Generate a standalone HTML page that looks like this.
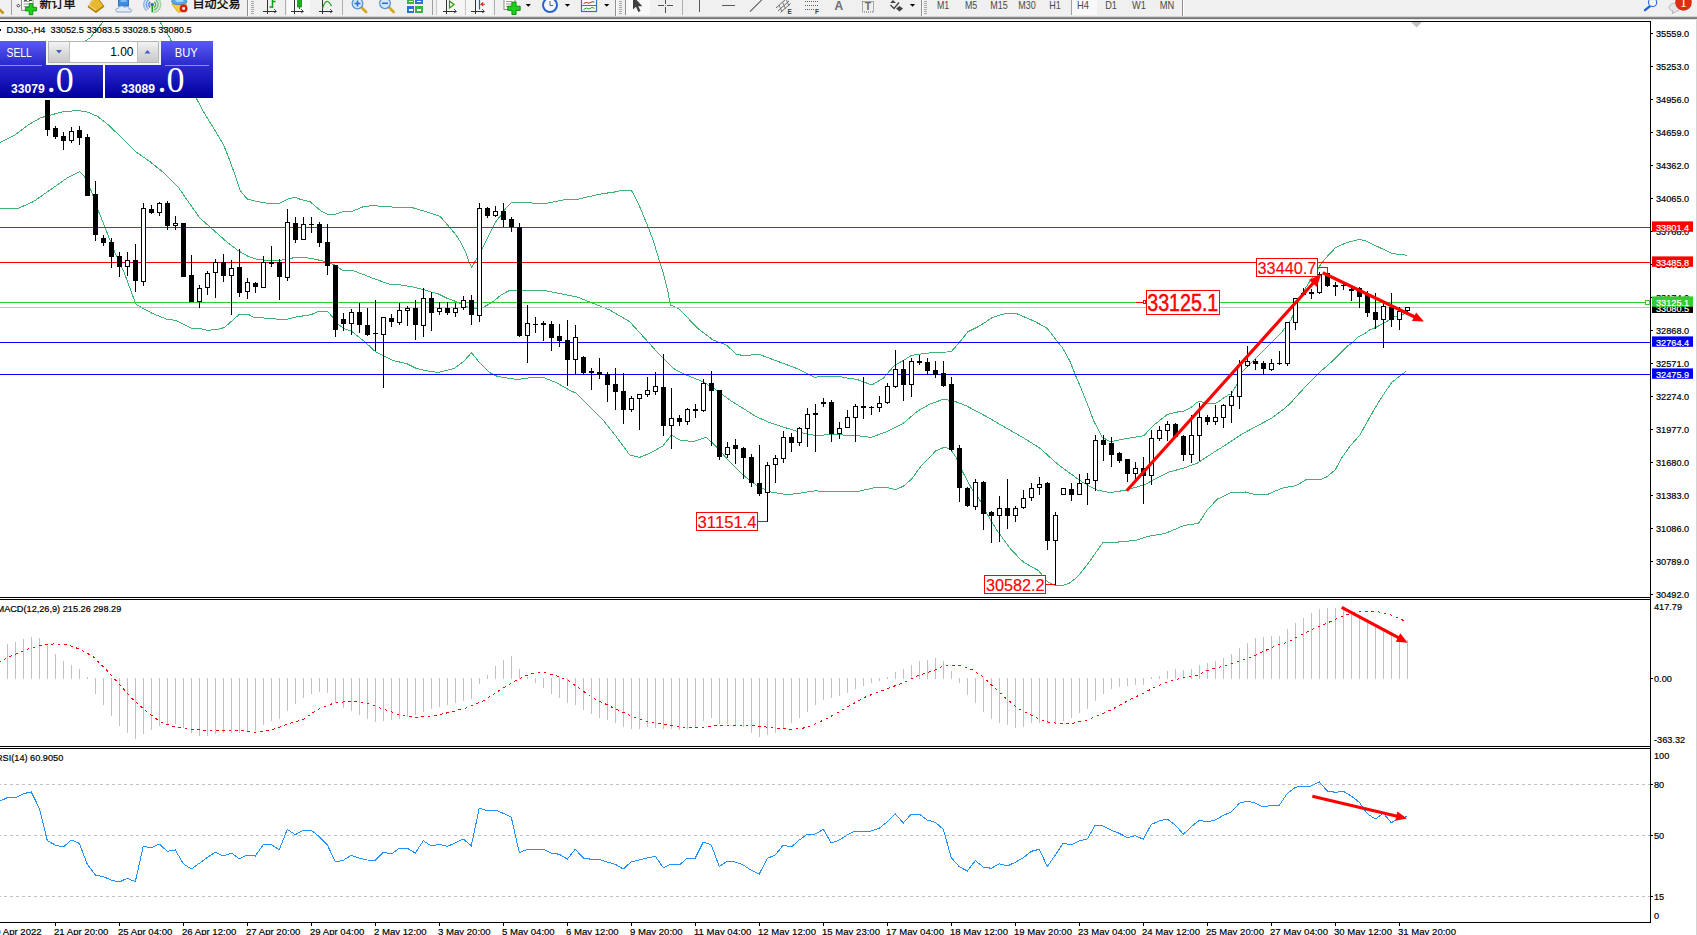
<!DOCTYPE html>
<html lang="zh"><head><meta charset="utf-8"><title>DJ30-,H4</title>
<style>html,body{margin:0;padding:0;background:#fff;overflow:hidden}body{width:1697px;height:935px;position:relative;font-family:"Liberation Sans","Noto Sans CJK SC",sans-serif}</style>
</head><body>
<svg width="1697" height="935" viewBox="0 0 1697 935" style="position:absolute;left:0;top:0">
<defs>
<linearGradient id="gbt" x1="0" y1="0" x2="0" y2="1"><stop offset="0" stop-color="#5a5af4"/><stop offset="1" stop-color="#2828cc"/></linearGradient>
<linearGradient id="gbb" x1="0" y1="0" x2="0" y2="1"><stop offset="0" stop-color="#2a2ad0"/><stop offset="1" stop-color="#0000a0"/></linearGradient>
<linearGradient id="gsp" x1="0" y1="0" x2="0" y2="1"><stop offset="0" stop-color="#f4f4f4"/><stop offset="0.5" stop-color="#dcdcdc"/><stop offset="1" stop-color="#c8c8c8"/></linearGradient>
</defs>
<rect x="0" y="0" width="1697" height="935" fill="#fff"/>
<g shape-rendering="crispEdges">
<rect x="0" y="21" width="1651" height="1" fill="#000"/>
<rect x="1650" y="21" width="1" height="902" fill="#000"/>
<rect x="0" y="597" width="1651" height="1" fill="#000"/>
<rect x="0" y="599" width="1651" height="1" fill="#000"/>
<rect x="0" y="746" width="1651" height="1" fill="#000"/>
<rect x="0" y="748" width="1651" height="1" fill="#000"/>
<rect x="0" y="922" width="1651" height="1" fill="#000"/>
<rect x="1696" y="19" width="1" height="916" fill="#d4d4d4"/>
</g>
<clipPath id="cm"><rect x="0" y="22" width="1650" height="575"/></clipPath>
<g clip-path="url(#cm)">
<polyline points="-2.0,75.0 40.0,62.0 70.0,50.0 90.0,38.0 103.0,22.0 110.0,10.0" fill="none" stroke="#3cb371" stroke-width="1" shape-rendering="crispEdges" />
<polyline points="152.0,10.0 160.0,22.0 170.0,38.0 185.0,75.0 197.3,100.1 203.7,112.1 215.0,130.5 223.5,144.7 229.1,158.8 234.8,174.4 240.0,189.9 242.4,193.4 247.4,199.1 256.6,201.5 267.9,203.3 279.2,203.3 287.7,199.1 294.8,197.3 301.8,199.8 310.3,201.9 320.2,210.4 327.3,214.2 335.8,214.2 342.9,211.8 352.8,211.1 362.7,206.9 372.6,205.5 386.7,206.9 400.8,207.2 412.2,207.6 426.3,211.8 440.0,216.2 456.0,234.9 461.4,243.5 465.7,252.0 468.9,261.7 471.6,267.5 476.9,258.4 482.2,248.8 488.1,237.1 495.6,222.1 501.0,215.1 504.2,210.3 511.1,202.6 530.9,202.6 533.0,203.7 545.9,203.4 565.1,199.6 576.9,199.4 600.0,194.1 616.6,191.7 622.2,190.2 631.4,190.2 639.2,205.5 647.7,226.0 653.4,240.8 659.7,262.0 663.3,273.3 667.5,289.6 670.3,305.0 678.0,308.3 689.7,320.0 699.7,330.0 713.0,340.0 726.3,345.0 736.3,354.0 744.7,356.0 758.0,354.0 769.7,358.3 783.0,363.3 796.3,368.3 806.3,373.3 814.7,377.3 823.0,376.0 836.3,376.0 848.3,378.3 856.7,379.3 871.7,385.0 883.3,378.3 893.3,366.7 900.0,362.2 904.2,360.1 911.3,355.4 919.8,354.2 932.5,352.6 946.7,352.0 951.6,351.2 959.4,342.4 967.9,331.8 977.8,326.9 984.9,322.6 991.9,317.7 999.0,315.3 1006.1,313.4 1016.0,313.4 1024.5,317.0 1034.4,321.2 1047.1,328.3 1057.0,341.0 1062.7,348.1 1069.7,360.8 1075.4,375.0 1082.5,391.9 1089.5,409.6 1093.3,420.0 1101.7,436.7 1110.0,441.7 1123.6,439.1 1143.6,435.8 1154.5,424.5 1167.3,414.5 1180.0,411.4 1183.2,411.4 1190.9,407.6 1197.3,402.1 1200.5,401.2 1202.5,402.5 1207.6,403.4 1215.3,403.4 1218.5,401.8 1223.6,398.0 1228.1,395.1 1231.3,394.1 1234.5,388.3 1236.8,385.1 1241.0,373.3 1254.3,360.0 1271.0,343.3 1281.0,333.3 1291.0,320.0 1297.7,303.3 1304.3,290.0 1312.7,276.7 1320.1,265.3 1326.0,257.8 1335.6,247.6 1346.3,242.8 1359.1,239.4 1365.6,240.7 1376.3,246.0 1391.2,253.0 1397.6,254.4 1403.0,254.4 1406.7,255.7" fill="none" stroke="#3cb371" stroke-width="1" shape-rendering="crispEdges" />
<polyline points="-2.0,143.5 14.1,135.5 28.3,124.9 41.0,117.5 46.7,116.4 60.8,112.1 77.8,110.4 87.7,112.1 97.6,116.4 107.5,124.2 123.1,139.0 135.8,151.7 149.9,161.6 164.1,173.0 178.2,187.1 192.4,207.6 200.0,218.2 211.3,228.1 225.5,240.8 238.2,250.7 248.1,256.4 256.6,259.2 267.9,260.6 284.9,259.9 296.2,257.1 310.3,258.2 324.5,261.3 334.4,264.9 342.9,270.5 352.8,270.5 364.1,274.8 376.8,279.7 390.9,284.7 400.8,285.0 412.2,286.8 423.5,289.6 433.0,292.5 437.5,293.5 447.4,298.4 457.3,302.0 465.8,306.2 471.4,308.3 477.0,308.5 482.8,307.6 492.7,302.0 501.1,294.9 509.6,290.4 518.1,290.0 530.8,290.4 545.0,290.7 556.3,292.8 570.0,295.6 576.3,296.7 593.0,303.3 609.7,310.0 629.7,321.7 646.3,340.0 659.7,355.0 673.0,368.3 686.3,375.0 703.0,381.7 716.3,390.0 729.7,400.0 743.0,408.3 756.3,416.7 769.7,422.7 783.0,426.9 796.5,431.2 800.0,432.4 815.6,435.5 831.1,434.6 856.6,435.5 870.7,437.4 884.9,432.4 903.3,423.3 916.7,411.7 930.0,404.0 943.3,399.3 953.3,400.7 966.7,406.0 986.7,416.7 1006.7,428.3 1023.3,437.7 1040.0,448.3 1056.7,463.3 1070.0,473.3 1083.3,482.7 1096.7,490.0 1110.0,492.7 1126.7,490.0 1145.0,484.5 1158.0,477.5 1170.0,471.7 1183.0,468.3 1197.0,463.3 1212.0,453.5 1227.0,444.0 1242.0,434.0 1257.0,426.0 1272.0,418.0 1285.0,408.0 1290.0,403.6 1307.1,384.8 1319.1,372.8 1332.8,360.8 1348.2,345.4 1352.4,342.7 1358.5,336.8 1364.1,334.1 1369.6,330.0 1375.3,327.7 1383.4,323.4 1388.7,320.2 1395.1,316.5 1403.0,314.2 1407.0,312.8" fill="none" stroke="#3cb371" stroke-width="1" shape-rendering="crispEdges" />
<polyline points="-2.0,208.5 16.7,209.0 33.3,201.7 50.0,190.0 66.7,178.3 80.0,171.7 87.3,180.0 96.7,206.7 104.1,225.0 114.0,250.5 123.9,271.7 135.3,302.8 136.7,304.9 152.2,313.4 166.4,319.1 176.3,320.5 191.8,328.3 200.3,328.7 207.4,330.4 217.3,329.4 224.4,327.5 239.2,314.4 248.4,314.4 254.1,317.6 273.9,318.4 278.1,319.5 288.0,319.1 296.5,316.9 310.6,314.8 319.1,311.3 327.6,311.3 330.0,314.1 338.5,324.6 344.1,328.8 351.2,331.0 365.4,342.3 375.3,351.5 383.7,355.7 393.6,360.7 406.4,363.5 416.3,368.4 429.0,371.3 438.9,372.4 454.5,368.4 464.4,360.7 471.4,352.6 478.5,361.4 489.8,372.7 496.9,376.2 508.2,378.3 518.1,379.5 530.8,377.6 543.6,377.6 556.3,382.6 570.0,390.4 576.3,393.3 589.7,406.7 603.0,420.0 616.3,436.7 629.7,455.0 639.7,457.3 649.7,453.3 663.0,446.0 671.3,435.0 679.7,440.0 693.0,441.7 706.3,437.3 716.3,446.7 729.7,461.7 743.0,475.0 756.3,485.0 769.7,491.7 787.0,494.8 803.0,492.7 815.0,490.8 833.0,492.0 856.7,491.7 876.4,487.3 887.7,487.6 895.5,489.7 903.3,486.2 911.7,479.1 920.2,467.1 935.8,450.8 944.3,447.3 949.9,448.7 955.6,456.5 962.7,472.0 972.6,490.4 979.6,499.6 986.7,513.3 996.7,530.0 1010.0,548.3 1021.0,560.0 1025.0,563.0 1034.0,568.2 1038.6,570.6 1041.6,574.4 1046.3,580.6 1048.7,582.7 1051.6,583.6 1054.6,585.3 1063.4,585.3 1069.3,583.3 1075.0,578.9 1080.0,574.0 1091.6,558.6 1103.1,542.2 1116.6,542.2 1135.9,540.3 1147.4,536.5 1164.7,533.6 1184.0,525.5 1198.5,523.3 1207.2,510.0 1217.2,499.2 1230.5,492.8 1245.5,492.0 1256.3,495.0 1267.3,494.5 1281.8,488.2 1296.4,485.5 1305.5,480.0 1321.8,479.1 1326.8,476.9 1335.4,469.6 1341.4,458.4 1349.9,446.4 1360.2,434.5 1368.8,419.0 1375.6,407.1 1384.2,393.4 1391.9,382.2 1399.6,376.2 1406.3,371.0" fill="none" stroke="#3cb371" stroke-width="1" shape-rendering="crispEdges" />
<g shape-rendering="crispEdges">
<rect x="0" y="227" width="1650" height="1" fill="#ff0000"/>
<rect x="0" y="262" width="1650" height="1" fill="#ff0000"/>
<rect x="0" y="302" width="1650" height="1" fill="#32cd32"/>
<rect x="0" y="307" width="1650" height="1" fill="#c0c0c0"/>
<rect x="0" y="342" width="1650" height="1" fill="#0000ff"/>
<rect x="0" y="374" width="1650" height="1" fill="#0000ff"/>
<rect x="47" y="100" width="1" height="36" fill="#000"/>
<rect x="45" y="100" width="5" height="30" fill="#000"/>
<rect x="55" y="126" width="1" height="13" fill="#000"/>
<rect x="53" y="128" width="5" height="9" fill="#000"/>
<rect x="63" y="132" width="1" height="18" fill="#000"/>
<rect x="61" y="136" width="5" height="5" fill="#000"/>
<rect x="71" y="127" width="1" height="16" fill="#000"/>
<rect x="69" y="131" width="5" height="10" fill="#000"/>
<rect x="70" y="132" width="3" height="8" fill="#fff"/>
<rect x="79" y="126" width="1" height="19" fill="#000"/>
<rect x="77" y="130" width="5" height="8" fill="#000"/>
<rect x="87" y="134" width="1" height="62" fill="#000"/>
<rect x="85" y="137" width="5" height="59" fill="#000"/>
<rect x="95" y="181" width="1" height="60" fill="#000"/>
<rect x="93" y="194" width="5" height="41" fill="#000"/>
<rect x="103" y="235" width="1" height="11" fill="#000"/>
<rect x="101" y="238" width="5" height="5" fill="#000"/>
<rect x="111" y="238" width="1" height="30" fill="#000"/>
<rect x="109" y="242" width="5" height="15" fill="#000"/>
<rect x="119" y="252" width="1" height="25" fill="#000"/>
<rect x="117" y="256" width="5" height="11" fill="#000"/>
<rect x="127" y="252" width="1" height="24" fill="#000"/>
<rect x="125" y="260" width="5" height="7" fill="#000"/>
<rect x="126" y="261" width="3" height="5" fill="#fff"/>
<rect x="135" y="244" width="1" height="48" fill="#000"/>
<rect x="133" y="260" width="5" height="21" fill="#000"/>
<rect x="143" y="203" width="1" height="83" fill="#000"/>
<rect x="141" y="208" width="5" height="74" fill="#000"/>
<rect x="142" y="209" width="3" height="72" fill="#fff"/>
<rect x="151" y="205" width="1" height="9" fill="#000"/>
<rect x="149" y="209" width="5" height="4" fill="#000"/>
<rect x="159" y="202" width="1" height="14" fill="#000"/>
<rect x="157" y="203" width="5" height="10" fill="#000"/>
<rect x="158" y="204" width="3" height="8" fill="#fff"/>
<rect x="167" y="201" width="1" height="29" fill="#000"/>
<rect x="165" y="203" width="5" height="23" fill="#000"/>
<rect x="175" y="216" width="1" height="14" fill="#000"/>
<rect x="173" y="223" width="5" height="3" fill="#000"/>
<rect x="174" y="224" width="3" height="1" fill="#fff"/>
<rect x="183" y="223" width="1" height="54" fill="#000"/>
<rect x="181" y="223" width="5" height="54" fill="#000"/>
<rect x="191" y="255" width="1" height="47" fill="#000"/>
<rect x="189" y="275" width="5" height="27" fill="#000"/>
<rect x="199" y="285" width="1" height="23" fill="#000"/>
<rect x="197" y="288" width="5" height="14" fill="#000"/>
<rect x="198" y="289" width="3" height="12" fill="#fff"/>
<rect x="207" y="271" width="1" height="24" fill="#000"/>
<rect x="205" y="273" width="5" height="15" fill="#000"/>
<rect x="206" y="274" width="3" height="13" fill="#fff"/>
<rect x="215" y="259" width="1" height="39" fill="#000"/>
<rect x="213" y="262" width="5" height="11" fill="#000"/>
<rect x="214" y="263" width="3" height="9" fill="#fff"/>
<rect x="223" y="254" width="1" height="28" fill="#000"/>
<rect x="221" y="262" width="5" height="14" fill="#000"/>
<rect x="231" y="260" width="1" height="55" fill="#000"/>
<rect x="229" y="268" width="5" height="8" fill="#000"/>
<rect x="230" y="269" width="3" height="6" fill="#fff"/>
<rect x="239" y="249" width="1" height="48" fill="#000"/>
<rect x="237" y="267" width="5" height="26" fill="#000"/>
<rect x="247" y="278" width="1" height="21" fill="#000"/>
<rect x="245" y="282" width="5" height="10" fill="#000"/>
<rect x="246" y="283" width="3" height="8" fill="#fff"/>
<rect x="255" y="282" width="1" height="11" fill="#000"/>
<rect x="253" y="283" width="5" height="4" fill="#000"/>
<rect x="263" y="256" width="1" height="32" fill="#000"/>
<rect x="261" y="262" width="5" height="26" fill="#000"/>
<rect x="262" y="263" width="3" height="24" fill="#fff"/>
<rect x="271" y="246" width="1" height="21" fill="#000"/>
<rect x="269" y="262" width="5" height="2" fill="#000"/>
<rect x="279" y="259" width="1" height="41" fill="#000"/>
<rect x="277" y="262" width="5" height="15" fill="#000"/>
<rect x="287" y="209" width="1" height="72" fill="#000"/>
<rect x="285" y="222" width="5" height="56" fill="#000"/>
<rect x="286" y="223" width="3" height="54" fill="#fff"/>
<rect x="295" y="217" width="1" height="26" fill="#000"/>
<rect x="293" y="223" width="5" height="17" fill="#000"/>
<rect x="303" y="217" width="1" height="23" fill="#000"/>
<rect x="301" y="224" width="5" height="16" fill="#000"/>
<rect x="302" y="225" width="3" height="14" fill="#fff"/>
<rect x="311" y="217" width="1" height="16" fill="#000"/>
<rect x="309" y="224" width="5" height="1" fill="#000"/>
<rect x="319" y="222" width="1" height="25" fill="#000"/>
<rect x="317" y="224" width="5" height="19" fill="#000"/>
<rect x="327" y="224" width="1" height="51" fill="#000"/>
<rect x="325" y="242" width="5" height="24" fill="#000"/>
<rect x="335" y="265" width="1" height="72" fill="#000"/>
<rect x="333" y="265" width="5" height="65" fill="#000"/>
<rect x="343" y="313" width="1" height="18" fill="#000"/>
<rect x="341" y="319" width="5" height="5" fill="#000"/>
<rect x="351" y="309" width="1" height="26" fill="#000"/>
<rect x="349" y="312" width="5" height="12" fill="#000"/>
<rect x="350" y="313" width="3" height="10" fill="#fff"/>
<rect x="359" y="303" width="1" height="30" fill="#000"/>
<rect x="357" y="312" width="5" height="13" fill="#000"/>
<rect x="367" y="308" width="1" height="28" fill="#000"/>
<rect x="365" y="325" width="5" height="10" fill="#000"/>
<rect x="375" y="300" width="1" height="51" fill="#000"/>
<rect x="373" y="333" width="5" height="1" fill="#000"/>
<rect x="383" y="317" width="1" height="71" fill="#000"/>
<rect x="381" y="317" width="5" height="18" fill="#000"/>
<rect x="382" y="318" width="3" height="16" fill="#fff"/>
<rect x="391" y="314" width="1" height="13" fill="#000"/>
<rect x="389" y="318" width="5" height="4" fill="#000"/>
<rect x="399" y="303" width="1" height="22" fill="#000"/>
<rect x="397" y="310" width="5" height="13" fill="#000"/>
<rect x="398" y="311" width="3" height="11" fill="#fff"/>
<rect x="407" y="306" width="1" height="20" fill="#000"/>
<rect x="405" y="308" width="5" height="3" fill="#000"/>
<rect x="406" y="309" width="3" height="1" fill="#fff"/>
<rect x="415" y="300" width="1" height="40" fill="#000"/>
<rect x="413" y="308" width="5" height="17" fill="#000"/>
<rect x="423" y="288" width="1" height="49" fill="#000"/>
<rect x="421" y="298" width="5" height="28" fill="#000"/>
<rect x="422" y="299" width="3" height="26" fill="#fff"/>
<rect x="431" y="292" width="1" height="39" fill="#000"/>
<rect x="429" y="298" width="5" height="15" fill="#000"/>
<rect x="439" y="302" width="1" height="13" fill="#000"/>
<rect x="437" y="308" width="5" height="4" fill="#000"/>
<rect x="438" y="309" width="3" height="2" fill="#fff"/>
<rect x="447" y="302" width="1" height="13" fill="#000"/>
<rect x="445" y="308" width="5" height="5" fill="#000"/>
<rect x="455" y="303" width="1" height="14" fill="#000"/>
<rect x="453" y="308" width="5" height="5" fill="#000"/>
<rect x="454" y="309" width="3" height="3" fill="#fff"/>
<rect x="463" y="296" width="1" height="14" fill="#000"/>
<rect x="461" y="300" width="5" height="8" fill="#000"/>
<rect x="462" y="301" width="3" height="6" fill="#fff"/>
<rect x="471" y="295" width="1" height="30" fill="#000"/>
<rect x="469" y="300" width="5" height="15" fill="#000"/>
<rect x="479" y="203" width="1" height="119" fill="#000"/>
<rect x="477" y="208" width="5" height="108" fill="#000"/>
<rect x="478" y="209" width="3" height="106" fill="#fff"/>
<rect x="487" y="207" width="1" height="11" fill="#000"/>
<rect x="485" y="208" width="5" height="8" fill="#000"/>
<rect x="495" y="206" width="1" height="11" fill="#000"/>
<rect x="493" y="211" width="5" height="5" fill="#000"/>
<rect x="494" y="212" width="3" height="3" fill="#fff"/>
<rect x="503" y="203" width="1" height="24" fill="#000"/>
<rect x="501" y="211" width="5" height="9" fill="#000"/>
<rect x="511" y="217" width="1" height="15" fill="#000"/>
<rect x="509" y="219" width="5" height="8" fill="#000"/>
<rect x="519" y="223" width="1" height="114" fill="#000"/>
<rect x="517" y="227" width="5" height="109" fill="#000"/>
<rect x="527" y="305" width="1" height="58" fill="#000"/>
<rect x="525" y="323" width="5" height="13" fill="#000"/>
<rect x="526" y="324" width="3" height="11" fill="#fff"/>
<rect x="535" y="317" width="1" height="16" fill="#000"/>
<rect x="533" y="324" width="5" height="1" fill="#000"/>
<rect x="543" y="321" width="1" height="20" fill="#000"/>
<rect x="541" y="323" width="5" height="2" fill="#000"/>
<rect x="551" y="321" width="1" height="30" fill="#000"/>
<rect x="549" y="324" width="5" height="14" fill="#000"/>
<rect x="559" y="324" width="1" height="23" fill="#000"/>
<rect x="557" y="336" width="5" height="5" fill="#000"/>
<rect x="567" y="320" width="1" height="66" fill="#000"/>
<rect x="565" y="340" width="5" height="20" fill="#000"/>
<rect x="575" y="325" width="1" height="50" fill="#000"/>
<rect x="573" y="337" width="5" height="23" fill="#000"/>
<rect x="574" y="338" width="3" height="21" fill="#fff"/>
<rect x="583" y="356" width="1" height="19" fill="#000"/>
<rect x="581" y="357" width="5" height="16" fill="#000"/>
<rect x="591" y="368" width="1" height="22" fill="#000"/>
<rect x="589" y="371" width="5" height="2" fill="#000"/>
<rect x="599" y="358" width="1" height="21" fill="#000"/>
<rect x="597" y="372" width="5" height="3" fill="#000"/>
<rect x="607" y="372" width="1" height="30" fill="#000"/>
<rect x="605" y="374" width="5" height="11" fill="#000"/>
<rect x="615" y="368" width="1" height="42" fill="#000"/>
<rect x="613" y="384" width="5" height="8" fill="#000"/>
<rect x="623" y="373" width="1" height="51" fill="#000"/>
<rect x="621" y="391" width="5" height="19" fill="#000"/>
<rect x="631" y="396" width="1" height="16" fill="#000"/>
<rect x="629" y="398" width="5" height="12" fill="#000"/>
<rect x="630" y="399" width="3" height="10" fill="#fff"/>
<rect x="639" y="394" width="1" height="36" fill="#000"/>
<rect x="637" y="394" width="5" height="5" fill="#000"/>
<rect x="638" y="395" width="3" height="3" fill="#fff"/>
<rect x="647" y="377" width="1" height="20" fill="#000"/>
<rect x="645" y="390" width="5" height="5" fill="#000"/>
<rect x="646" y="391" width="3" height="3" fill="#fff"/>
<rect x="655" y="372" width="1" height="23" fill="#000"/>
<rect x="653" y="386" width="5" height="6" fill="#000"/>
<rect x="654" y="387" width="3" height="4" fill="#fff"/>
<rect x="663" y="354" width="1" height="82" fill="#000"/>
<rect x="661" y="387" width="5" height="39" fill="#000"/>
<rect x="671" y="388" width="1" height="61" fill="#000"/>
<rect x="669" y="418" width="5" height="8" fill="#000"/>
<rect x="670" y="419" width="3" height="6" fill="#fff"/>
<rect x="679" y="415" width="1" height="11" fill="#000"/>
<rect x="677" y="418" width="5" height="4" fill="#000"/>
<rect x="687" y="408" width="1" height="17" fill="#000"/>
<rect x="685" y="409" width="5" height="13" fill="#000"/>
<rect x="686" y="410" width="3" height="11" fill="#fff"/>
<rect x="695" y="404" width="1" height="14" fill="#000"/>
<rect x="693" y="409" width="5" height="2" fill="#000"/>
<rect x="703" y="379" width="1" height="33" fill="#000"/>
<rect x="701" y="383" width="5" height="28" fill="#000"/>
<rect x="702" y="384" width="3" height="26" fill="#fff"/>
<rect x="711" y="371" width="1" height="75" fill="#000"/>
<rect x="709" y="383" width="5" height="8" fill="#000"/>
<rect x="719" y="390" width="1" height="70" fill="#000"/>
<rect x="717" y="390" width="5" height="67" fill="#000"/>
<rect x="727" y="442" width="1" height="16" fill="#000"/>
<rect x="725" y="447" width="5" height="8" fill="#000"/>
<rect x="726" y="448" width="3" height="6" fill="#fff"/>
<rect x="735" y="439" width="1" height="25" fill="#000"/>
<rect x="733" y="445" width="5" height="4" fill="#000"/>
<rect x="743" y="447" width="1" height="32" fill="#000"/>
<rect x="741" y="448" width="5" height="10" fill="#000"/>
<rect x="751" y="454" width="1" height="33" fill="#000"/>
<rect x="749" y="457" width="5" height="26" fill="#000"/>
<rect x="759" y="445" width="1" height="51" fill="#000"/>
<rect x="757" y="483" width="5" height="11" fill="#000"/>
<rect x="767" y="462" width="1" height="60" fill="#000"/>
<rect x="765" y="465" width="5" height="28" fill="#000"/>
<rect x="766" y="466" width="3" height="26" fill="#fff"/>
<rect x="775" y="455" width="1" height="28" fill="#000"/>
<rect x="773" y="458" width="5" height="7" fill="#000"/>
<rect x="774" y="459" width="3" height="5" fill="#fff"/>
<rect x="783" y="431" width="1" height="32" fill="#000"/>
<rect x="781" y="437" width="5" height="22" fill="#000"/>
<rect x="782" y="438" width="3" height="20" fill="#fff"/>
<rect x="791" y="433" width="1" height="19" fill="#000"/>
<rect x="789" y="437" width="5" height="6" fill="#000"/>
<rect x="799" y="427" width="1" height="19" fill="#000"/>
<rect x="797" y="428" width="5" height="15" fill="#000"/>
<rect x="798" y="429" width="3" height="13" fill="#fff"/>
<rect x="807" y="408" width="1" height="39" fill="#000"/>
<rect x="805" y="414" width="5" height="15" fill="#000"/>
<rect x="806" y="415" width="3" height="13" fill="#fff"/>
<rect x="815" y="404" width="1" height="48" fill="#000"/>
<rect x="813" y="413" width="5" height="2" fill="#000"/>
<rect x="823" y="398" width="1" height="9" fill="#000"/>
<rect x="821" y="402" width="5" height="2" fill="#000"/>
<rect x="831" y="400" width="1" height="42" fill="#000"/>
<rect x="829" y="402" width="5" height="32" fill="#000"/>
<rect x="839" y="422" width="1" height="17" fill="#000"/>
<rect x="837" y="428" width="5" height="6" fill="#000"/>
<rect x="838" y="429" width="3" height="4" fill="#fff"/>
<rect x="847" y="410" width="1" height="18" fill="#000"/>
<rect x="845" y="417" width="5" height="11" fill="#000"/>
<rect x="846" y="418" width="3" height="9" fill="#fff"/>
<rect x="855" y="404" width="1" height="38" fill="#000"/>
<rect x="853" y="406" width="5" height="12" fill="#000"/>
<rect x="854" y="407" width="3" height="10" fill="#fff"/>
<rect x="863" y="377" width="1" height="42" fill="#000"/>
<rect x="861" y="406" width="5" height="2" fill="#000"/>
<rect x="871" y="406" width="1" height="9" fill="#000"/>
<rect x="869" y="407" width="5" height="1" fill="#000"/>
<rect x="879" y="396" width="1" height="16" fill="#000"/>
<rect x="877" y="403" width="5" height="5" fill="#000"/>
<rect x="878" y="404" width="3" height="3" fill="#fff"/>
<rect x="887" y="383" width="1" height="21" fill="#000"/>
<rect x="885" y="386" width="5" height="17" fill="#000"/>
<rect x="886" y="387" width="3" height="15" fill="#fff"/>
<rect x="895" y="350" width="1" height="38" fill="#000"/>
<rect x="893" y="369" width="5" height="18" fill="#000"/>
<rect x="894" y="370" width="3" height="16" fill="#fff"/>
<rect x="903" y="360" width="1" height="41" fill="#000"/>
<rect x="901" y="369" width="5" height="16" fill="#000"/>
<rect x="911" y="358" width="1" height="39" fill="#000"/>
<rect x="909" y="361" width="5" height="24" fill="#000"/>
<rect x="910" y="362" width="3" height="22" fill="#fff"/>
<rect x="919" y="355" width="1" height="10" fill="#000"/>
<rect x="917" y="361" width="5" height="2" fill="#000"/>
<rect x="927" y="358" width="1" height="17" fill="#000"/>
<rect x="925" y="362" width="5" height="9" fill="#000"/>
<rect x="935" y="361" width="1" height="17" fill="#000"/>
<rect x="933" y="370" width="5" height="5" fill="#000"/>
<rect x="943" y="361" width="1" height="26" fill="#000"/>
<rect x="941" y="373" width="5" height="13" fill="#000"/>
<rect x="951" y="377" width="1" height="74" fill="#000"/>
<rect x="949" y="384" width="5" height="66" fill="#000"/>
<rect x="959" y="445" width="1" height="57" fill="#000"/>
<rect x="957" y="448" width="5" height="40" fill="#000"/>
<rect x="967" y="487" width="1" height="20" fill="#000"/>
<rect x="965" y="488" width="5" height="18" fill="#000"/>
<rect x="975" y="479" width="1" height="31" fill="#000"/>
<rect x="973" y="482" width="5" height="25" fill="#000"/>
<rect x="974" y="483" width="3" height="23" fill="#fff"/>
<rect x="983" y="481" width="1" height="49" fill="#000"/>
<rect x="981" y="482" width="5" height="32" fill="#000"/>
<rect x="991" y="511" width="1" height="32" fill="#000"/>
<rect x="989" y="512" width="5" height="4" fill="#000"/>
<rect x="999" y="496" width="1" height="46" fill="#000"/>
<rect x="997" y="508" width="5" height="8" fill="#000"/>
<rect x="998" y="509" width="3" height="6" fill="#fff"/>
<rect x="1007" y="479" width="1" height="50" fill="#000"/>
<rect x="1005" y="508" width="5" height="8" fill="#000"/>
<rect x="1015" y="506" width="1" height="16" fill="#000"/>
<rect x="1013" y="508" width="5" height="8" fill="#000"/>
<rect x="1014" y="509" width="3" height="6" fill="#fff"/>
<rect x="1023" y="490" width="1" height="19" fill="#000"/>
<rect x="1021" y="498" width="5" height="10" fill="#000"/>
<rect x="1022" y="499" width="3" height="8" fill="#fff"/>
<rect x="1031" y="483" width="1" height="18" fill="#000"/>
<rect x="1029" y="488" width="5" height="10" fill="#000"/>
<rect x="1030" y="489" width="3" height="8" fill="#fff"/>
<rect x="1039" y="477" width="1" height="18" fill="#000"/>
<rect x="1037" y="484" width="5" height="4" fill="#000"/>
<rect x="1038" y="485" width="3" height="2" fill="#fff"/>
<rect x="1047" y="482" width="1" height="68" fill="#000"/>
<rect x="1045" y="483" width="5" height="58" fill="#000"/>
<rect x="1055" y="512" width="1" height="73" fill="#000"/>
<rect x="1053" y="515" width="5" height="26" fill="#000"/>
<rect x="1054" y="516" width="3" height="24" fill="#fff"/>
<rect x="1063" y="488" width="1" height="7" fill="#000"/>
<rect x="1061" y="488" width="5" height="7" fill="#000"/>
<rect x="1062" y="489" width="3" height="5" fill="#fff"/>
<rect x="1071" y="483" width="1" height="18" fill="#000"/>
<rect x="1069" y="489" width="5" height="6" fill="#000"/>
<rect x="1079" y="474" width="1" height="21" fill="#000"/>
<rect x="1077" y="483" width="5" height="12" fill="#000"/>
<rect x="1078" y="484" width="3" height="10" fill="#fff"/>
<rect x="1087" y="473" width="1" height="32" fill="#000"/>
<rect x="1085" y="479" width="5" height="5" fill="#000"/>
<rect x="1086" y="480" width="3" height="3" fill="#fff"/>
<rect x="1095" y="435" width="1" height="56" fill="#000"/>
<rect x="1093" y="440" width="5" height="41" fill="#000"/>
<rect x="1094" y="441" width="3" height="39" fill="#fff"/>
<rect x="1103" y="435" width="1" height="26" fill="#000"/>
<rect x="1101" y="440" width="5" height="5" fill="#000"/>
<rect x="1111" y="437" width="1" height="30" fill="#000"/>
<rect x="1109" y="443" width="5" height="12" fill="#000"/>
<rect x="1119" y="452" width="1" height="11" fill="#000"/>
<rect x="1117" y="453" width="5" height="8" fill="#000"/>
<rect x="1127" y="459" width="1" height="23" fill="#000"/>
<rect x="1125" y="459" width="5" height="15" fill="#000"/>
<rect x="1135" y="462" width="1" height="20" fill="#000"/>
<rect x="1133" y="468" width="5" height="6" fill="#000"/>
<rect x="1134" y="469" width="3" height="4" fill="#fff"/>
<rect x="1143" y="457" width="1" height="47" fill="#000"/>
<rect x="1141" y="468" width="5" height="8" fill="#000"/>
<rect x="1151" y="430" width="1" height="55" fill="#000"/>
<rect x="1149" y="438" width="5" height="38" fill="#000"/>
<rect x="1150" y="439" width="3" height="36" fill="#fff"/>
<rect x="1159" y="426" width="1" height="15" fill="#000"/>
<rect x="1157" y="430" width="5" height="9" fill="#000"/>
<rect x="1158" y="431" width="3" height="7" fill="#fff"/>
<rect x="1167" y="421" width="1" height="20" fill="#000"/>
<rect x="1165" y="424" width="5" height="7" fill="#000"/>
<rect x="1166" y="425" width="3" height="5" fill="#fff"/>
<rect x="1175" y="423" width="1" height="15" fill="#000"/>
<rect x="1173" y="424" width="5" height="13" fill="#000"/>
<rect x="1183" y="435" width="1" height="26" fill="#000"/>
<rect x="1181" y="436" width="5" height="19" fill="#000"/>
<rect x="1191" y="415" width="1" height="48" fill="#000"/>
<rect x="1189" y="435" width="5" height="20" fill="#000"/>
<rect x="1190" y="436" width="3" height="18" fill="#fff"/>
<rect x="1199" y="403" width="1" height="58" fill="#000"/>
<rect x="1197" y="417" width="5" height="19" fill="#000"/>
<rect x="1198" y="418" width="3" height="17" fill="#fff"/>
<rect x="1207" y="415" width="1" height="10" fill="#000"/>
<rect x="1205" y="417" width="5" height="5" fill="#000"/>
<rect x="1215" y="405" width="1" height="20" fill="#000"/>
<rect x="1213" y="417" width="5" height="5" fill="#000"/>
<rect x="1214" y="418" width="3" height="3" fill="#fff"/>
<rect x="1223" y="404" width="1" height="24" fill="#000"/>
<rect x="1221" y="405" width="5" height="13" fill="#000"/>
<rect x="1222" y="406" width="3" height="11" fill="#fff"/>
<rect x="1231" y="391" width="1" height="32" fill="#000"/>
<rect x="1229" y="396" width="5" height="10" fill="#000"/>
<rect x="1230" y="397" width="3" height="8" fill="#fff"/>
<rect x="1239" y="360" width="1" height="49" fill="#000"/>
<rect x="1237" y="365" width="5" height="32" fill="#000"/>
<rect x="1238" y="366" width="3" height="30" fill="#fff"/>
<rect x="1247" y="346" width="1" height="21" fill="#000"/>
<rect x="1245" y="361" width="5" height="5" fill="#000"/>
<rect x="1246" y="362" width="3" height="3" fill="#fff"/>
<rect x="1255" y="359" width="1" height="11" fill="#000"/>
<rect x="1253" y="361" width="5" height="3" fill="#000"/>
<rect x="1263" y="361" width="1" height="14" fill="#000"/>
<rect x="1261" y="363" width="5" height="6" fill="#000"/>
<rect x="1271" y="359" width="1" height="12" fill="#000"/>
<rect x="1269" y="363" width="5" height="7" fill="#000"/>
<rect x="1270" y="364" width="3" height="5" fill="#fff"/>
<rect x="1279" y="351" width="1" height="14" fill="#000"/>
<rect x="1277" y="363" width="5" height="1" fill="#000"/>
<rect x="1287" y="322" width="1" height="44" fill="#000"/>
<rect x="1285" y="322" width="5" height="42" fill="#000"/>
<rect x="1286" y="323" width="3" height="40" fill="#fff"/>
<rect x="1295" y="298" width="1" height="32" fill="#000"/>
<rect x="1293" y="298" width="5" height="25" fill="#000"/>
<rect x="1294" y="299" width="3" height="23" fill="#fff"/>
<rect x="1303" y="288" width="1" height="7" fill="#000"/>
<rect x="1301" y="293" width="5" height="2" fill="#000"/>
<rect x="1311" y="289" width="1" height="10" fill="#000"/>
<rect x="1309" y="292" width="5" height="2" fill="#000"/>
<rect x="1319" y="272" width="1" height="22" fill="#000"/>
<rect x="1317" y="274" width="5" height="19" fill="#000"/>
<rect x="1318" y="275" width="3" height="17" fill="#fff"/>
<rect x="1327" y="268" width="1" height="19" fill="#000"/>
<rect x="1325" y="273" width="5" height="13" fill="#000"/>
<rect x="1335" y="282" width="1" height="14" fill="#000"/>
<rect x="1333" y="285" width="5" height="2" fill="#000"/>
<rect x="1343" y="282" width="1" height="8" fill="#000"/>
<rect x="1341" y="285" width="5" height="1" fill="#000"/>
<rect x="1351" y="288" width="1" height="13" fill="#000"/>
<rect x="1349" y="289" width="5" height="2" fill="#000"/>
<rect x="1359" y="287" width="1" height="21" fill="#000"/>
<rect x="1357" y="288" width="5" height="9" fill="#000"/>
<rect x="1367" y="291" width="1" height="26" fill="#000"/>
<rect x="1365" y="295" width="5" height="18" fill="#000"/>
<rect x="1375" y="293" width="1" height="36" fill="#000"/>
<rect x="1373" y="312" width="5" height="8" fill="#000"/>
<rect x="1383" y="303" width="1" height="45" fill="#000"/>
<rect x="1381" y="306" width="5" height="14" fill="#000"/>
<rect x="1382" y="307" width="3" height="12" fill="#fff"/>
<rect x="1391" y="293" width="1" height="34" fill="#000"/>
<rect x="1389" y="307" width="5" height="13" fill="#000"/>
<rect x="1399" y="307" width="1" height="23" fill="#000"/>
<rect x="1397" y="311" width="5" height="9" fill="#000"/>
<rect x="1398" y="312" width="3" height="7" fill="#fff"/>
<rect x="1407" y="307" width="1" height="6" fill="#000"/>
<rect x="1405" y="307" width="5" height="4" fill="#000"/>
<rect x="1406" y="308" width="3" height="2" fill="#fff"/>
</g>
<rect x="1645.5" y="300.5" width="4" height="4" fill="#fff" stroke="#32cd32" stroke-width="1" shape-rendering="crispEdges"/>
<path d="M1411 22 L1422 22 L1416.5 27.5 Z" fill="#c0c0c0"/>
<line x1="1126.7" y1="490.7" x2="1314.2" y2="282.0" stroke="#ff0000" stroke-width="3.2"/>
<path d="M1321.2 274.2 L1316.8 287.0 L1308.9 280.0 Z" fill="#ff0000"/>
<line x1="1322.7" y1="272.7" x2="1415.9" y2="317.5" stroke="#ff0000" stroke-width="3.2"/>
<path d="M1424.0 321.4 L1412.0 320.9 L1416.1 312.4 Z" fill="#ff0000"/>
<rect x="696.5" y="512.5" width="61" height="18" fill="#fff" stroke="#ff0000" stroke-width="1" shape-rendering="crispEdges"/>
<text x="697.6" y="528" font-family="Liberation Sans, sans-serif" font-size="16" fill="#ff0000" stroke="#ff0000" stroke-width="0.15" textLength="59.0" lengthAdjust="spacingAndGlyphs">31151.4</text>
<rect x="758" y="521" width="9" height="1" fill="#ff0000" shape-rendering="crispEdges"/>
<rect x="984.5" y="575.5" width="61" height="18" fill="#fff" stroke="#ff0000" stroke-width="1" shape-rendering="crispEdges"/>
<text x="985.9" y="591" font-family="Liberation Sans, sans-serif" font-size="16" fill="#ff0000" stroke="#ff0000" stroke-width="0.15" textLength="58.6" lengthAdjust="spacingAndGlyphs">30582.2</text>
<rect x="1046" y="584" width="9" height="1" fill="#ff0000" shape-rendering="crispEdges"/>
<rect x="1256.5" y="258.5" width="61" height="18" fill="#fff" stroke="#ff0000" stroke-width="1" shape-rendering="crispEdges"/>
<text x="1257.6" y="274" font-family="Liberation Sans, sans-serif" font-size="16" fill="#ff0000" stroke="#ff0000" stroke-width="0.15" textLength="58.7" lengthAdjust="spacingAndGlyphs">33440.7</text>
<path d="M1318 267.5 H1327.5 V274" fill="none" stroke="#ff0000" stroke-width="1" shape-rendering="crispEdges"/>
<rect x="1146.5" y="290.5" width="73" height="24" fill="#fff" stroke="#ff0000" stroke-width="1" shape-rendering="crispEdges"/>
<text x="1147.2" y="311" font-family="Liberation Sans, sans-serif" font-size="23" fill="#ff0000" stroke="#ff0000" stroke-width="0.5" textLength="71.1" lengthAdjust="spacingAndGlyphs">33125.1</text>
<rect x="1136" y="302" width="7" height="1" fill="#ff0000" shape-rendering="crispEdges"/>
<rect x="1143.5" y="300.5" width="2" height="3" fill="#fff" stroke="#ff0000" stroke-width="1" shape-rendering="crispEdges"/>
</g>
<text transform="translate(6.5,33) scale(0.933,1)" font-family="Liberation Sans, sans-serif" font-size="9.9" fill="#000" stroke="#000" stroke-width="0.2" xml:space="preserve" style="white-space:pre">DJ30-,H4  33052.5 33083.5 33028.5 33080.5</text>
<rect x="0" y="29" width="1" height="2" fill="#000"/>
<g shape-rendering="crispEdges">
<rect x="0" y="41" width="213" height="57" fill="#fff"/>
<rect x="0" y="41" width="46" height="25" fill="url(#gbt)"/>
<rect x="161" y="41" width="52" height="25" fill="url(#gbt)"/>
<rect x="0" y="65" width="103" height="33" fill="url(#gbb)"/>
<rect x="105" y="65" width="108" height="33" fill="url(#gbb)"/>
<rect x="0" y="65" width="42" height="1" fill="#8a8aff"/>
<rect x="165" y="65" width="44" height="1" fill="#8a8aff"/>
<rect x="46" y="41" width="115" height="24" fill="#f4f4f4"/>
<rect x="48.5" y="41.500" width="110" height="21" fill="#fff" stroke="#b4b4b4"/>
<rect x="49" y="42" width="20" height="20" fill="url(#gsp)"/>
<rect x="138" y="42" width="20" height="20" fill="url(#gsp)"/>
<rect x="69" y="42" width="1" height="20" fill="#c0c0c0"/>
<rect x="137" y="42" width="1" height="20" fill="#c0c0c0"/>
</g>
<path d="M56 50 L62 50 L59 53.5 Z" fill="#4060c0"/>
<path d="M144.500 53.500 L150.500 53.500 L147.500 50 Z" fill="#4060c0"/>
<text x="133.5" y="56" font-family="Liberation Sans, sans-serif" font-size="12" fill="#000" text-anchor="end">1.00</text>
<text x="6.5" y="57" font-family="Liberation Sans, sans-serif" font-size="12" fill="#fff" textLength="25.3" lengthAdjust="spacingAndGlyphs">SELL</text>
<text x="174.7" y="57" font-family="Liberation Sans, sans-serif" font-size="12" fill="#fff" textLength="23" lengthAdjust="spacingAndGlyphs">BUY</text>
<text x="11" y="92.600" font-family="Liberation Sans, sans-serif" font-size="12" font-weight="bold" fill="#fff" textLength="33.7" lengthAdjust="spacingAndGlyphs">33079</text>
<text x="121.2" y="92.600" font-family="Liberation Sans, sans-serif" font-size="12" font-weight="bold" fill="#fff" textLength="33.7" lengthAdjust="spacingAndGlyphs">33089</text>
<text x="46.800" y="92.400" font-family="Liberation Serif, serif" font-size="36" fill="#fff">.0</text>
<text x="157.600" y="92.400" font-family="Liberation Serif, serif" font-size="36" fill="#fff">.0</text>
<g shape-rendering="crispEdges">
<rect x="1651" y="33" width="2" height="1" fill="#000"/>
<rect x="1651" y="66" width="2" height="1" fill="#000"/>
<rect x="1651" y="99" width="2" height="1" fill="#000"/>
<rect x="1651" y="132" width="2" height="1" fill="#000"/>
<rect x="1651" y="165" width="2" height="1" fill="#000"/>
<rect x="1651" y="198" width="2" height="1" fill="#000"/>
<rect x="1651" y="231" width="2" height="1" fill="#000"/>
<rect x="1651" y="264" width="2" height="1" fill="#000"/>
<rect x="1651" y="297" width="2" height="1" fill="#000"/>
<rect x="1651" y="330" width="2" height="1" fill="#000"/>
<rect x="1651" y="363" width="2" height="1" fill="#000"/>
<rect x="1651" y="396" width="2" height="1" fill="#000"/>
<rect x="1651" y="429" width="2" height="1" fill="#000"/>
<rect x="1651" y="462" width="2" height="1" fill="#000"/>
<rect x="1651" y="495" width="2" height="1" fill="#000"/>
<rect x="1651" y="528" width="2" height="1" fill="#000"/>
<rect x="1651" y="561" width="2" height="1" fill="#000"/>
<rect x="1651" y="594" width="2" height="1" fill="#000"/>
<rect x="1651" y="678" width="2" height="1" fill="#000"/>
<rect x="1651" y="784" width="2" height="1" fill="#000"/>
<rect x="1651" y="835" width="2" height="1" fill="#000"/>
<rect x="1651" y="896" width="2" height="1" fill="#000"/>
</g>
<text transform="translate(1656,37) scale(0.927,1)" font-family="Liberation Sans, sans-serif" font-size="9.9" fill="#000" stroke="#000" stroke-width="0.2">35559.0</text>
<text transform="translate(1656,70) scale(0.927,1)" font-family="Liberation Sans, sans-serif" font-size="9.9" fill="#000" stroke="#000" stroke-width="0.2">35253.0</text>
<text transform="translate(1656,103) scale(0.927,1)" font-family="Liberation Sans, sans-serif" font-size="9.9" fill="#000" stroke="#000" stroke-width="0.2">34956.0</text>
<text transform="translate(1656,136) scale(0.927,1)" font-family="Liberation Sans, sans-serif" font-size="9.9" fill="#000" stroke="#000" stroke-width="0.2">34659.0</text>
<text transform="translate(1656,169) scale(0.927,1)" font-family="Liberation Sans, sans-serif" font-size="9.9" fill="#000" stroke="#000" stroke-width="0.2">34362.0</text>
<text transform="translate(1656,202) scale(0.927,1)" font-family="Liberation Sans, sans-serif" font-size="9.9" fill="#000" stroke="#000" stroke-width="0.2">34065.0</text>
<text transform="translate(1656,235) scale(0.927,1)" font-family="Liberation Sans, sans-serif" font-size="9.9" fill="#000" stroke="#000" stroke-width="0.2">33768.0</text>
<text transform="translate(1656,268) scale(0.927,1)" font-family="Liberation Sans, sans-serif" font-size="9.9" fill="#000" stroke="#000" stroke-width="0.2">33471.0</text>
<text transform="translate(1656,301) scale(0.927,1)" font-family="Liberation Sans, sans-serif" font-size="9.9" fill="#000" stroke="#000" stroke-width="0.2">33174.0</text>
<text transform="translate(1656,334) scale(0.927,1)" font-family="Liberation Sans, sans-serif" font-size="9.9" fill="#000" stroke="#000" stroke-width="0.2">32868.0</text>
<text transform="translate(1656,367) scale(0.927,1)" font-family="Liberation Sans, sans-serif" font-size="9.9" fill="#000" stroke="#000" stroke-width="0.2">32571.0</text>
<text transform="translate(1656,400) scale(0.927,1)" font-family="Liberation Sans, sans-serif" font-size="9.9" fill="#000" stroke="#000" stroke-width="0.2">32274.0</text>
<text transform="translate(1656,433) scale(0.927,1)" font-family="Liberation Sans, sans-serif" font-size="9.9" fill="#000" stroke="#000" stroke-width="0.2">31977.0</text>
<text transform="translate(1656,466) scale(0.927,1)" font-family="Liberation Sans, sans-serif" font-size="9.9" fill="#000" stroke="#000" stroke-width="0.2">31680.0</text>
<text transform="translate(1656,499) scale(0.927,1)" font-family="Liberation Sans, sans-serif" font-size="9.9" fill="#000" stroke="#000" stroke-width="0.2">31383.0</text>
<text transform="translate(1656,532) scale(0.927,1)" font-family="Liberation Sans, sans-serif" font-size="9.9" fill="#000" stroke="#000" stroke-width="0.2">31086.0</text>
<text transform="translate(1656,565) scale(0.927,1)" font-family="Liberation Sans, sans-serif" font-size="9.9" fill="#000" stroke="#000" stroke-width="0.2">30789.0</text>
<text transform="translate(1656,598) scale(0.927,1)" font-family="Liberation Sans, sans-serif" font-size="9.9" fill="#000" stroke="#000" stroke-width="0.2">30492.0</text>
<g shape-rendering="crispEdges">
<rect x="1652" y="306" width="41" height="7" fill="#000"/>
</g>
<text transform="translate(1656,312) scale(0.927,1)" font-family="Liberation Sans, sans-serif" font-size="9.9" fill="#fff" stroke="#fff" stroke-width="0.2">33080.5</text>
<rect x="1652" y="221.4" width="41" height="10.4" fill="#ff0000"/>
<rect x="1652" y="256.4" width="41" height="10.4" fill="#ff0000"/>
<rect x="1652" y="296.4" width="41" height="10.4" fill="#32cd32"/>
<rect x="1652" y="336.4" width="41" height="10.4" fill="#0000ff"/>
<rect x="1652" y="368.4" width="41" height="10.4" fill="#0000ff"/>
<text transform="translate(1656,230.5) scale(0.927,1)" font-family="Liberation Sans, sans-serif" font-size="9.9" fill="#fff" stroke="#fff" stroke-width="0.2">33801.4</text>
<text transform="translate(1656,265.5) scale(0.927,1)" font-family="Liberation Sans, sans-serif" font-size="9.9" fill="#fff" stroke="#fff" stroke-width="0.2">33485.8</text>
<text transform="translate(1656,305.5) scale(0.927,1)" font-family="Liberation Sans, sans-serif" font-size="9.9" fill="#fff" stroke="#fff" stroke-width="0.2">33125.1</text>
<text transform="translate(1656,345.5) scale(0.927,1)" font-family="Liberation Sans, sans-serif" font-size="9.9" fill="#fff" stroke="#fff" stroke-width="0.2">32764.4</text>
<text transform="translate(1656,377.5) scale(0.927,1)" font-family="Liberation Sans, sans-serif" font-size="9.9" fill="#fff" stroke="#fff" stroke-width="0.2">32475.9</text>
<text transform="translate(1654,610.2) scale(0.927,1)" font-family="Liberation Sans, sans-serif" font-size="9.9" fill="#000" stroke="#000" stroke-width="0.2">417.79</text>
<text transform="translate(1654,682) scale(0.927,1)" font-family="Liberation Sans, sans-serif" font-size="9.9" fill="#000" stroke="#000" stroke-width="0.2">0.00</text>
<text transform="translate(1654,743) scale(0.927,1)" font-family="Liberation Sans, sans-serif" font-size="9.9" fill="#000" stroke="#000" stroke-width="0.2">-363.32</text>
<text transform="translate(1654,759.2) scale(0.927,1)" font-family="Liberation Sans, sans-serif" font-size="9.9" fill="#000" stroke="#000" stroke-width="0.2">100</text>
<text transform="translate(1654,788) scale(0.927,1)" font-family="Liberation Sans, sans-serif" font-size="9.9" fill="#000" stroke="#000" stroke-width="0.2">80</text>
<text transform="translate(1654,838.5) scale(0.927,1)" font-family="Liberation Sans, sans-serif" font-size="9.9" fill="#000" stroke="#000" stroke-width="0.2">50</text>
<text transform="translate(1654,899.8) scale(0.927,1)" font-family="Liberation Sans, sans-serif" font-size="9.9" fill="#000" stroke="#000" stroke-width="0.2">15</text>
<text transform="translate(1654,919.2) scale(0.927,1)" font-family="Liberation Sans, sans-serif" font-size="9.9" fill="#000" stroke="#000" stroke-width="0.2">0</text>
<clipPath id="c2"><rect x="0" y="600" width="1650" height="146"/></clipPath>
<g clip-path="url(#c2)">
<g shape-rendering="crispEdges">
<rect x="7" y="644" width="1" height="35" fill="#c0c0c0"/>
<rect x="15" y="642" width="1" height="37" fill="#c0c0c0"/>
<rect x="23" y="639" width="1" height="40" fill="#c0c0c0"/>
<rect x="31" y="637" width="1" height="42" fill="#c0c0c0"/>
<rect x="39" y="638" width="1" height="41" fill="#c0c0c0"/>
<rect x="47" y="646" width="1" height="33" fill="#c0c0c0"/>
<rect x="55" y="654" width="1" height="25" fill="#c0c0c0"/>
<rect x="63" y="661" width="1" height="18" fill="#c0c0c0"/>
<rect x="71" y="665" width="1" height="14" fill="#c0c0c0"/>
<rect x="79" y="669" width="1" height="10" fill="#c0c0c0"/>
<rect x="87" y="677" width="1" height="2" fill="#c0c0c0"/>
<rect x="95" y="678" width="1" height="16" fill="#c0c0c0"/>
<rect x="103" y="678" width="1" height="27" fill="#c0c0c0"/>
<rect x="111" y="678" width="1" height="38" fill="#c0c0c0"/>
<rect x="119" y="678" width="1" height="48" fill="#c0c0c0"/>
<rect x="127" y="678" width="1" height="55" fill="#c0c0c0"/>
<rect x="135" y="678" width="1" height="61" fill="#c0c0c0"/>
<rect x="143" y="678" width="1" height="56" fill="#c0c0c0"/>
<rect x="151" y="678" width="1" height="52" fill="#c0c0c0"/>
<rect x="159" y="678" width="1" height="48" fill="#c0c0c0"/>
<rect x="167" y="678" width="1" height="46" fill="#c0c0c0"/>
<rect x="175" y="678" width="1" height="46" fill="#c0c0c0"/>
<rect x="183" y="678" width="1" height="50" fill="#c0c0c0"/>
<rect x="191" y="678" width="1" height="55" fill="#c0c0c0"/>
<rect x="199" y="678" width="1" height="58" fill="#c0c0c0"/>
<rect x="207" y="678" width="1" height="58" fill="#c0c0c0"/>
<rect x="215" y="678" width="1" height="56" fill="#c0c0c0"/>
<rect x="223" y="678" width="1" height="55" fill="#c0c0c0"/>
<rect x="231" y="678" width="1" height="55" fill="#c0c0c0"/>
<rect x="239" y="678" width="1" height="55" fill="#c0c0c0"/>
<rect x="247" y="678" width="1" height="54" fill="#c0c0c0"/>
<rect x="255" y="678" width="1" height="53" fill="#c0c0c0"/>
<rect x="263" y="678" width="1" height="47" fill="#c0c0c0"/>
<rect x="271" y="678" width="1" height="43" fill="#c0c0c0"/>
<rect x="279" y="678" width="1" height="41" fill="#c0c0c0"/>
<rect x="287" y="678" width="1" height="33" fill="#c0c0c0"/>
<rect x="295" y="678" width="1" height="26" fill="#c0c0c0"/>
<rect x="303" y="678" width="1" height="20" fill="#c0c0c0"/>
<rect x="311" y="678" width="1" height="16" fill="#c0c0c0"/>
<rect x="319" y="678" width="1" height="14" fill="#c0c0c0"/>
<rect x="327" y="678" width="1" height="15" fill="#c0c0c0"/>
<rect x="335" y="678" width="1" height="25" fill="#c0c0c0"/>
<rect x="343" y="678" width="1" height="30" fill="#c0c0c0"/>
<rect x="351" y="678" width="1" height="33" fill="#c0c0c0"/>
<rect x="359" y="678" width="1" height="37" fill="#c0c0c0"/>
<rect x="367" y="678" width="1" height="41" fill="#c0c0c0"/>
<rect x="375" y="678" width="1" height="44" fill="#c0c0c0"/>
<rect x="383" y="678" width="1" height="43" fill="#c0c0c0"/>
<rect x="391" y="678" width="1" height="42" fill="#c0c0c0"/>
<rect x="399" y="678" width="1" height="41" fill="#c0c0c0"/>
<rect x="407" y="678" width="1" height="39" fill="#c0c0c0"/>
<rect x="415" y="678" width="1" height="37" fill="#c0c0c0"/>
<rect x="423" y="678" width="1" height="34" fill="#c0c0c0"/>
<rect x="431" y="678" width="1" height="31" fill="#c0c0c0"/>
<rect x="439" y="678" width="1" height="29" fill="#c0c0c0"/>
<rect x="447" y="678" width="1" height="27" fill="#c0c0c0"/>
<rect x="455" y="678" width="1" height="25" fill="#c0c0c0"/>
<rect x="463" y="678" width="1" height="23" fill="#c0c0c0"/>
<rect x="471" y="678" width="1" height="21" fill="#c0c0c0"/>
<rect x="479" y="678" width="1" height="6" fill="#c0c0c0"/>
<rect x="487" y="675" width="1" height="4" fill="#c0c0c0"/>
<rect x="495" y="666" width="1" height="13" fill="#c0c0c0"/>
<rect x="503" y="660" width="1" height="19" fill="#c0c0c0"/>
<rect x="511" y="656" width="1" height="23" fill="#c0c0c0"/>
<rect x="519" y="669" width="1" height="10" fill="#c0c0c0"/>
<rect x="527" y="677" width="1" height="2" fill="#c0c0c0"/>
<rect x="535" y="678" width="1" height="5" fill="#c0c0c0"/>
<rect x="543" y="678" width="1" height="10" fill="#c0c0c0"/>
<rect x="551" y="678" width="1" height="16" fill="#c0c0c0"/>
<rect x="559" y="678" width="1" height="20" fill="#c0c0c0"/>
<rect x="567" y="678" width="1" height="25" fill="#c0c0c0"/>
<rect x="575" y="678" width="1" height="27" fill="#c0c0c0"/>
<rect x="583" y="678" width="1" height="32" fill="#c0c0c0"/>
<rect x="591" y="678" width="1" height="36" fill="#c0c0c0"/>
<rect x="599" y="678" width="1" height="40" fill="#c0c0c0"/>
<rect x="607" y="678" width="1" height="42" fill="#c0c0c0"/>
<rect x="615" y="678" width="1" height="45" fill="#c0c0c0"/>
<rect x="623" y="678" width="1" height="49" fill="#c0c0c0"/>
<rect x="631" y="678" width="1" height="51" fill="#c0c0c0"/>
<rect x="639" y="678" width="1" height="51" fill="#c0c0c0"/>
<rect x="647" y="678" width="1" height="49" fill="#c0c0c0"/>
<rect x="655" y="678" width="1" height="50" fill="#c0c0c0"/>
<rect x="663" y="678" width="1" height="51" fill="#c0c0c0"/>
<rect x="671" y="678" width="1" height="51" fill="#c0c0c0"/>
<rect x="679" y="678" width="1" height="52" fill="#c0c0c0"/>
<rect x="687" y="678" width="1" height="51" fill="#c0c0c0"/>
<rect x="695" y="678" width="1" height="50" fill="#c0c0c0"/>
<rect x="703" y="678" width="1" height="43" fill="#c0c0c0"/>
<rect x="711" y="678" width="1" height="40" fill="#c0c0c0"/>
<rect x="719" y="678" width="1" height="46" fill="#c0c0c0"/>
<rect x="727" y="678" width="1" height="46" fill="#c0c0c0"/>
<rect x="735" y="678" width="1" height="47" fill="#c0c0c0"/>
<rect x="743" y="678" width="1" height="49" fill="#c0c0c0"/>
<rect x="751" y="678" width="1" height="55" fill="#c0c0c0"/>
<rect x="759" y="678" width="1" height="59" fill="#c0c0c0"/>
<rect x="767" y="678" width="1" height="57" fill="#c0c0c0"/>
<rect x="775" y="678" width="1" height="55" fill="#c0c0c0"/>
<rect x="783" y="678" width="1" height="50" fill="#c0c0c0"/>
<rect x="791" y="678" width="1" height="45" fill="#c0c0c0"/>
<rect x="799" y="678" width="1" height="40" fill="#c0c0c0"/>
<rect x="807" y="678" width="1" height="34" fill="#c0c0c0"/>
<rect x="815" y="678" width="1" height="27" fill="#c0c0c0"/>
<rect x="823" y="678" width="1" height="22" fill="#c0c0c0"/>
<rect x="831" y="678" width="1" height="20" fill="#c0c0c0"/>
<rect x="839" y="678" width="1" height="18" fill="#c0c0c0"/>
<rect x="847" y="678" width="1" height="15" fill="#c0c0c0"/>
<rect x="855" y="678" width="1" height="11" fill="#c0c0c0"/>
<rect x="863" y="678" width="1" height="8" fill="#c0c0c0"/>
<rect x="871" y="678" width="1" height="5" fill="#c0c0c0"/>
<rect x="879" y="678" width="1" height="3" fill="#c0c0c0"/>
<rect x="887" y="677" width="1" height="2" fill="#c0c0c0"/>
<rect x="895" y="672" width="1" height="7" fill="#c0c0c0"/>
<rect x="903" y="669" width="1" height="10" fill="#c0c0c0"/>
<rect x="911" y="665" width="1" height="14" fill="#c0c0c0"/>
<rect x="919" y="661" width="1" height="18" fill="#c0c0c0"/>
<rect x="927" y="660" width="1" height="19" fill="#c0c0c0"/>
<rect x="935" y="658" width="1" height="21" fill="#c0c0c0"/>
<rect x="943" y="661" width="1" height="18" fill="#c0c0c0"/>
<rect x="951" y="671" width="1" height="8" fill="#c0c0c0"/>
<rect x="959" y="678" width="1" height="5" fill="#c0c0c0"/>
<rect x="967" y="678" width="1" height="17" fill="#c0c0c0"/>
<rect x="975" y="678" width="1" height="25" fill="#c0c0c0"/>
<rect x="983" y="678" width="1" height="34" fill="#c0c0c0"/>
<rect x="991" y="678" width="1" height="41" fill="#c0c0c0"/>
<rect x="999" y="678" width="1" height="45" fill="#c0c0c0"/>
<rect x="1007" y="678" width="1" height="47" fill="#c0c0c0"/>
<rect x="1015" y="678" width="1" height="50" fill="#c0c0c0"/>
<rect x="1023" y="678" width="1" height="49" fill="#c0c0c0"/>
<rect x="1031" y="678" width="1" height="45" fill="#c0c0c0"/>
<rect x="1039" y="678" width="1" height="45" fill="#c0c0c0"/>
<rect x="1047" y="678" width="1" height="46" fill="#c0c0c0"/>
<rect x="1055" y="678" width="1" height="45" fill="#c0c0c0"/>
<rect x="1063" y="678" width="1" height="43" fill="#c0c0c0"/>
<rect x="1071" y="678" width="1" height="40" fill="#c0c0c0"/>
<rect x="1079" y="678" width="1" height="35" fill="#c0c0c0"/>
<rect x="1087" y="678" width="1" height="31" fill="#c0c0c0"/>
<rect x="1095" y="678" width="1" height="23" fill="#c0c0c0"/>
<rect x="1103" y="678" width="1" height="16" fill="#c0c0c0"/>
<rect x="1111" y="678" width="1" height="11" fill="#c0c0c0"/>
<rect x="1119" y="678" width="1" height="9" fill="#c0c0c0"/>
<rect x="1127" y="678" width="1" height="8" fill="#c0c0c0"/>
<rect x="1135" y="678" width="1" height="7" fill="#c0c0c0"/>
<rect x="1143" y="678" width="1" height="7" fill="#c0c0c0"/>
<rect x="1151" y="677" width="1" height="2" fill="#c0c0c0"/>
<rect x="1159" y="676" width="1" height="3" fill="#c0c0c0"/>
<rect x="1167" y="671" width="1" height="8" fill="#c0c0c0"/>
<rect x="1175" y="669" width="1" height="10" fill="#c0c0c0"/>
<rect x="1183" y="670" width="1" height="9" fill="#c0c0c0"/>
<rect x="1191" y="669" width="1" height="10" fill="#c0c0c0"/>
<rect x="1199" y="665" width="1" height="14" fill="#c0c0c0"/>
<rect x="1207" y="663" width="1" height="16" fill="#c0c0c0"/>
<rect x="1215" y="661" width="1" height="18" fill="#c0c0c0"/>
<rect x="1223" y="658" width="1" height="21" fill="#c0c0c0"/>
<rect x="1231" y="654" width="1" height="25" fill="#c0c0c0"/>
<rect x="1239" y="648" width="1" height="31" fill="#c0c0c0"/>
<rect x="1247" y="643" width="1" height="36" fill="#c0c0c0"/>
<rect x="1255" y="638" width="1" height="41" fill="#c0c0c0"/>
<rect x="1263" y="637" width="1" height="42" fill="#c0c0c0"/>
<rect x="1271" y="636" width="1" height="43" fill="#c0c0c0"/>
<rect x="1279" y="636" width="1" height="43" fill="#c0c0c0"/>
<rect x="1287" y="629" width="1" height="50" fill="#c0c0c0"/>
<rect x="1295" y="623" width="1" height="56" fill="#c0c0c0"/>
<rect x="1303" y="618" width="1" height="61" fill="#c0c0c0"/>
<rect x="1311" y="613" width="1" height="66" fill="#c0c0c0"/>
<rect x="1319" y="609" width="1" height="70" fill="#c0c0c0"/>
<rect x="1327" y="608" width="1" height="71" fill="#c0c0c0"/>
<rect x="1335" y="608" width="1" height="71" fill="#c0c0c0"/>
<rect x="1343" y="609" width="1" height="70" fill="#c0c0c0"/>
<rect x="1351" y="612" width="1" height="67" fill="#c0c0c0"/>
<rect x="1359" y="615" width="1" height="64" fill="#c0c0c0"/>
<rect x="1367" y="619" width="1" height="60" fill="#c0c0c0"/>
<rect x="1375" y="624" width="1" height="55" fill="#c0c0c0"/>
<rect x="1383" y="628" width="1" height="51" fill="#c0c0c0"/>
<rect x="1391" y="634" width="1" height="45" fill="#c0c0c0"/>
<rect x="1399" y="638" width="1" height="41" fill="#c0c0c0"/>
<rect x="1407" y="640" width="1" height="39" fill="#c0c0c0"/>
</g>
<polyline points="-2.0,662.0 3.3,660.0 13.3,655.0 26.7,649.3 40.0,645.7 53.3,644.0 66.7,644.3 80.0,649.3 93.3,656.7 106.7,670.0 120.0,685.0 133.3,700.0 146.7,711.7 160.0,721.7 173.3,726.7 186.7,729.0 200.0,730.0 220.0,730.3 240.0,730.3 256.7,732.7 273.3,729.3 290.0,723.3 303.3,719.3 316.7,710.0 333.3,703.3 350.0,701.0 366.7,703.3 383.3,709.0 400.0,715.0 416.7,717.3 433.3,715.7 450.0,712.3 466.7,707.7 483.3,701.0 500.0,690.0 516.7,680.0 530.0,674.0 543.3,672.3 556.7,675.7 568.7,681.0 579.3,688.3 592.7,697.7 606.0,704.3 619.3,710.7 632.7,716.7 646.0,721.0 659.3,723.7 672.7,726.0 686.0,728.0 699.3,727.7 712.7,726.0 726.0,725.0 739.3,725.0 752.7,725.3 766.0,727.0 779.3,728.7 792.7,729.3 802.7,728.3 812.7,725.0 826.0,719.0 839.3,711.7 852.7,704.0 866.0,696.7 879.3,691.7 892.7,686.7 906.0,681.7 919.3,675.0 932.7,671.0 942.7,666.0 952.7,665.0 962.7,666.0 972.7,670.0 982.7,676.7 992.7,686.0 1006.0,698.3 1019.3,709.3 1032.7,716.0 1046.0,721.7 1059.3,723.7 1072.7,723.3 1086.0,720.3 1099.3,715.0 1112.7,709.0 1129.3,700.0 1144.3,692.7 1157.7,685.7 1171.0,681.0 1184.3,677.3 1197.7,675.0 1211.0,669.0 1224.3,666.0 1237.7,661.7 1251.0,657.3 1264.3,651.0 1277.7,645.0 1287.7,642.3 1297.7,636.7 1311.0,630.0 1324.3,624.3 1337.7,618.3 1351.0,613.3 1364.3,611.0 1377.7,611.7 1391.0,615.0 1401.0,619.0 1406.0,622.3" fill="none" stroke="#ff0000" stroke-width="1" shape-rendering="crispEdges" stroke-dasharray="2.7 3.6"/>
<line x1="1341.7" y1="607.3" x2="1399.8" y2="638.4" stroke="#ff0000" stroke-width="3.2"/>
<path d="M1407.7 642.7 L1395.8 641.7 L1400.3 633.3 Z" fill="#ff0000"/>
</g>
<text transform="translate(-3.5,612) scale(0.927,1)" font-family="Liberation Sans, sans-serif" font-size="9.9" fill="#000" stroke="#000" stroke-width="0.2">MACD(12,26,9) 215.26 298.29</text>
<clipPath id="c3"><rect x="0" y="749" width="1650" height="173"/></clipPath>
<g clip-path="url(#c3)">
<line x1="0" y1="784.5" x2="1650" y2="784.5" stroke="#c0c0c0" stroke-width="1" stroke-dasharray="3 3" stroke-dashoffset="2.15" shape-rendering="crispEdges"/>
<line x1="0" y1="835.5" x2="1650" y2="835.5" stroke="#c0c0c0" stroke-width="1" stroke-dasharray="3 3" stroke-dashoffset="2.15" shape-rendering="crispEdges"/>
<line x1="0" y1="896.5" x2="1650" y2="896.5" stroke="#c0c0c0" stroke-width="1" stroke-dasharray="3 3" stroke-dashoffset="2.15" shape-rendering="crispEdges"/>
<polyline points="-2.0,802.0 0.0,801.0 7.3,797.7 15.3,797.7 23.3,793.7 31.3,792.0 39.3,808.3 47.3,840.7 55.3,845.0 63.3,847.0 71.3,840.0 79.3,843.3 87.3,864.3 95.3,875.0 103.3,876.7 111.3,880.0 119.3,882.0 127.3,878.3 135.3,881.7 143.3,846.0 151.3,848.0 159.3,844.0 167.3,851.3 175.3,850.0 183.3,863.7 191.3,869.0 199.3,863.3 207.3,857.3 215.3,852.3 223.3,856.0 231.3,853.0 239.3,858.7 247.3,855.0 255.3,856.0 263.3,844.7 271.3,844.7 279.3,849.7 287.3,829.3 295.3,834.7 303.3,830.3 311.3,830.3 319.3,836.7 327.3,844.7 335.3,862.0 343.3,860.3 351.3,855.3 359.3,858.0 367.3,860.0 375.3,860.3 383.3,852.0 391.3,854.0 399.3,848.3 407.3,848.3 415.3,853.0 423.3,840.7 431.3,846.0 439.3,844.3 447.3,846.3 455.3,843.0 463.3,839.0 471.3,845.7 479.3,808.0 487.3,811.0 495.3,810.0 503.3,813.3 511.3,817.3 519.3,852.7 527.3,849.3 535.3,849.3 543.3,849.3 551.3,853.0 559.3,854.3 567.3,859.0 575.3,849.3 583.3,858.0 591.3,859.3 599.3,859.3 607.3,862.0 615.3,864.3 623.3,869.0 631.3,861.7 639.3,860.0 647.3,858.0 655.3,856.3 663.3,867.7 671.3,864.0 679.3,865.0 687.3,858.0 695.3,858.0 703.3,842.0 711.3,845.0 719.3,866.7 727.3,861.0 735.3,862.0 743.3,865.0 751.3,870.3 759.3,874.0 767.3,858.3 775.3,855.0 783.3,845.0 791.3,847.0 799.3,840.0 807.3,834.3 815.3,834.0 823.3,829.3 831.3,843.0 839.3,840.0 847.3,835.0 855.3,831.0 863.3,831.0 871.3,831.0 879.3,828.3 887.3,821.7 895.3,814.0 903.3,823.0 911.3,814.0 919.3,814.0 927.3,820.0 935.3,822.3 943.3,829.3 951.3,857.7 959.3,866.7 967.3,871.0 975.3,860.7 983.3,867.0 991.3,868.3 999.3,863.7 1007.3,866.0 1015.3,862.3 1023.3,857.7 1031.3,851.3 1039.3,849.3 1047.3,866.7 1055.3,855.0 1063.3,843.0 1071.3,845.0 1079.3,841.0 1087.3,839.0 1095.3,825.0 1103.3,826.0 1111.3,830.3 1119.3,833.3 1127.3,837.7 1135.3,835.7 1143.3,839.3 1151.3,824.3 1159.3,821.0 1167.3,819.0 1175.3,825.0 1183.3,834.3 1191.3,826.7 1199.3,820.3 1207.3,822.0 1215.3,820.0 1223.3,815.3 1231.3,812.0 1239.3,803.3 1247.3,801.0 1255.3,803.0 1263.3,807.0 1271.3,805.3 1279.3,805.3 1287.3,793.3 1295.3,787.3 1303.3,786.0 1311.3,786.0 1319.3,782.0 1327.3,791.0 1335.3,792.3 1343.3,791.3 1351.3,796.0 1359.3,802.3 1367.3,813.7 1375.3,819.0 1383.3,813.3 1391.3,822.7 1399.3,818.3 1407.0,816.7" fill="none" stroke="#1e90ff" stroke-width="1" shape-rendering="crispEdges" />
<line x1="1312.3" y1="796.2" x2="1398.2" y2="816.5" stroke="#ff0000" stroke-width="3.2"/>
<path d="M1407.0 818.6 L1395.2 820.7 L1397.4 811.4 Z" fill="#ff0000"/>
</g>
<text transform="translate(-4,761) scale(0.927,1)" font-family="Liberation Sans, sans-serif" font-size="9.9" fill="#000" stroke="#000" stroke-width="0.2">RSI(14) 60.9050</text>
<g shape-rendering="crispEdges">
<rect x="-9" y="923" width="1" height="3" fill="#000"/>
<rect x="55" y="923" width="1" height="3" fill="#000"/>
<rect x="119" y="923" width="1" height="3" fill="#000"/>
<rect x="183" y="923" width="1" height="3" fill="#000"/>
<rect x="247" y="923" width="1" height="3" fill="#000"/>
<rect x="311" y="923" width="1" height="3" fill="#000"/>
<rect x="375" y="923" width="1" height="3" fill="#000"/>
<rect x="439" y="923" width="1" height="3" fill="#000"/>
<rect x="503" y="923" width="1" height="3" fill="#000"/>
<rect x="567" y="923" width="1" height="3" fill="#000"/>
<rect x="631" y="923" width="1" height="3" fill="#000"/>
<rect x="695" y="923" width="1" height="3" fill="#000"/>
<rect x="759" y="923" width="1" height="3" fill="#000"/>
<rect x="823" y="923" width="1" height="3" fill="#000"/>
<rect x="887" y="923" width="1" height="3" fill="#000"/>
<rect x="951" y="923" width="1" height="3" fill="#000"/>
<rect x="1015" y="923" width="1" height="3" fill="#000"/>
<rect x="1079" y="923" width="1" height="3" fill="#000"/>
<rect x="1143" y="923" width="1" height="3" fill="#000"/>
<rect x="1207" y="923" width="1" height="3" fill="#000"/>
<rect x="1271" y="923" width="1" height="3" fill="#000"/>
<rect x="1335" y="923" width="1" height="3" fill="#000"/>
<rect x="1399" y="923" width="1" height="3" fill="#000"/>
</g>
<text transform="translate(-10,935) scale(0.968,1)" font-family="Liberation Sans, sans-serif" font-size="9.9" fill="#000" stroke="#000" stroke-width="0.2">20 Apr 2022</text>
<text transform="translate(54,935) scale(0.968,1)" font-family="Liberation Sans, sans-serif" font-size="9.9" fill="#000" stroke="#000" stroke-width="0.2">21 Apr 20:00</text>
<text transform="translate(118,935) scale(0.968,1)" font-family="Liberation Sans, sans-serif" font-size="9.9" fill="#000" stroke="#000" stroke-width="0.2">25 Apr 04:00</text>
<text transform="translate(182,935) scale(0.968,1)" font-family="Liberation Sans, sans-serif" font-size="9.9" fill="#000" stroke="#000" stroke-width="0.2">26 Apr 12:00</text>
<text transform="translate(246,935) scale(0.968,1)" font-family="Liberation Sans, sans-serif" font-size="9.9" fill="#000" stroke="#000" stroke-width="0.2">27 Apr 20:00</text>
<text transform="translate(310,935) scale(0.968,1)" font-family="Liberation Sans, sans-serif" font-size="9.9" fill="#000" stroke="#000" stroke-width="0.2">29 Apr 04:00</text>
<text transform="translate(374,935) scale(0.968,1)" font-family="Liberation Sans, sans-serif" font-size="9.9" fill="#000" stroke="#000" stroke-width="0.2">2 May 12:00</text>
<text transform="translate(438,935) scale(0.968,1)" font-family="Liberation Sans, sans-serif" font-size="9.9" fill="#000" stroke="#000" stroke-width="0.2">3 May 20:00</text>
<text transform="translate(502,935) scale(0.968,1)" font-family="Liberation Sans, sans-serif" font-size="9.9" fill="#000" stroke="#000" stroke-width="0.2">5 May 04:00</text>
<text transform="translate(566,935) scale(0.968,1)" font-family="Liberation Sans, sans-serif" font-size="9.9" fill="#000" stroke="#000" stroke-width="0.2">6 May 12:00</text>
<text transform="translate(630,935) scale(0.968,1)" font-family="Liberation Sans, sans-serif" font-size="9.9" fill="#000" stroke="#000" stroke-width="0.2">9 May 20:00</text>
<text transform="translate(694,935) scale(0.968,1)" font-family="Liberation Sans, sans-serif" font-size="9.9" fill="#000" stroke="#000" stroke-width="0.2">11 May 04:00</text>
<text transform="translate(758,935) scale(0.968,1)" font-family="Liberation Sans, sans-serif" font-size="9.9" fill="#000" stroke="#000" stroke-width="0.2">12 May 12:00</text>
<text transform="translate(822,935) scale(0.968,1)" font-family="Liberation Sans, sans-serif" font-size="9.9" fill="#000" stroke="#000" stroke-width="0.2">15 May 23:00</text>
<text transform="translate(886,935) scale(0.968,1)" font-family="Liberation Sans, sans-serif" font-size="9.9" fill="#000" stroke="#000" stroke-width="0.2">17 May 04:00</text>
<text transform="translate(950,935) scale(0.968,1)" font-family="Liberation Sans, sans-serif" font-size="9.9" fill="#000" stroke="#000" stroke-width="0.2">18 May 12:00</text>
<text transform="translate(1014,935) scale(0.968,1)" font-family="Liberation Sans, sans-serif" font-size="9.9" fill="#000" stroke="#000" stroke-width="0.2">19 May 20:00</text>
<text transform="translate(1078,935) scale(0.968,1)" font-family="Liberation Sans, sans-serif" font-size="9.9" fill="#000" stroke="#000" stroke-width="0.2">23 May 04:00</text>
<text transform="translate(1142,935) scale(0.968,1)" font-family="Liberation Sans, sans-serif" font-size="9.9" fill="#000" stroke="#000" stroke-width="0.2">24 May 12:00</text>
<text transform="translate(1206,935) scale(0.968,1)" font-family="Liberation Sans, sans-serif" font-size="9.9" fill="#000" stroke="#000" stroke-width="0.2">25 May 20:00</text>
<text transform="translate(1270,935) scale(0.968,1)" font-family="Liberation Sans, sans-serif" font-size="9.9" fill="#000" stroke="#000" stroke-width="0.2">27 May 04:00</text>
<text transform="translate(1334,935) scale(0.968,1)" font-family="Liberation Sans, sans-serif" font-size="9.9" fill="#000" stroke="#000" stroke-width="0.2">30 May 12:00</text>
<text transform="translate(1398,935) scale(0.968,1)" font-family="Liberation Sans, sans-serif" font-size="9.9" fill="#000" stroke="#000" stroke-width="0.2">31 May 20:00</text>
<g shape-rendering="crispEdges">
<rect x="0" y="0" width="1697" height="16" fill="#f0f0f0"/>
<rect x="0" y="16" width="1697" height="1" fill="#d2d2d2"/>
<rect x="0" y="17" width="1697" height="1" fill="#8c8c8c"/>
<rect x="0" y="18" width="1697" height="1" fill="#767676"/>
<rect x="0" y="19" width="1697" height="1" fill="#e6e6e6"/>
<rect x="11" y="0" width="1" height="15" fill="#a0a0a0"/>
<rect x="247" y="0" width="1" height="16" fill="#909090"/>
<rect x="248" y="0" width="1" height="16" fill="#fff"/>
<rect x="251" y="1" width="3" height="1" fill="#a8a8a8"/>
<rect x="251" y="3" width="3" height="1" fill="#a8a8a8"/>
<rect x="251" y="5" width="3" height="1" fill="#a8a8a8"/>
<rect x="251" y="7" width="3" height="1" fill="#a8a8a8"/>
<rect x="251" y="9" width="3" height="1" fill="#a8a8a8"/>
<rect x="251" y="11" width="3" height="1" fill="#a8a8a8"/>
<rect x="251" y="13" width="3" height="1" fill="#a8a8a8"/>
<rect x="285" y="0" width="1" height="15" fill="#b0b0b0"/>
<rect x="342" y="0" width="1" height="15" fill="#b0b0b0"/>
<rect x="432" y="0" width="1" height="15" fill="#a0a0a0"/>
<rect x="494" y="0" width="1" height="15" fill="#b0b0b0"/>
<rect x="615" y="0" width="1" height="16" fill="#909090"/>
<rect x="616" y="0" width="1" height="16" fill="#fff"/>
<rect x="619" y="1" width="3" height="1" fill="#a8a8a8"/>
<rect x="619" y="3" width="3" height="1" fill="#a8a8a8"/>
<rect x="619" y="5" width="3" height="1" fill="#a8a8a8"/>
<rect x="619" y="7" width="3" height="1" fill="#a8a8a8"/>
<rect x="619" y="9" width="3" height="1" fill="#a8a8a8"/>
<rect x="619" y="11" width="3" height="1" fill="#a8a8a8"/>
<rect x="619" y="13" width="3" height="1" fill="#a8a8a8"/>
<rect x="682" y="0" width="1" height="15" fill="#b0b0b0"/>
<rect x="921" y="0" width="1" height="16" fill="#909090"/>
<rect x="922" y="0" width="1" height="16" fill="#fff"/>
<rect x="924" y="1" width="3" height="1" fill="#a8a8a8"/>
<rect x="924" y="3" width="3" height="1" fill="#a8a8a8"/>
<rect x="924" y="5" width="3" height="1" fill="#a8a8a8"/>
<rect x="924" y="7" width="3" height="1" fill="#a8a8a8"/>
<rect x="924" y="9" width="3" height="1" fill="#a8a8a8"/>
<rect x="924" y="11" width="3" height="1" fill="#a8a8a8"/>
<rect x="924" y="13" width="3" height="1" fill="#a8a8a8"/>
<rect x="1182" y="0" width="1" height="16" fill="#909090"/>
<rect x="1183" y="0" width="1" height="16" fill="#fff"/>
<rect x="287" y="0" width="23" height="15" fill="#f9f9f9"/>
<rect x="436" y="0" width="28" height="15" fill="#f6f6f6"/>
<rect x="436" y="0" width="1" height="15" fill="#c8c8c8"/>
<rect x="465" y="0" width="1" height="15" fill="#c8c8c8"/>
<rect x="466" y="0" width="26" height="15" fill="#f6f6f6"/>
<rect x="626" y="0" width="24" height="15" fill="#f9f9f9"/>
<rect x="625" y="0" width="1" height="15" fill="#909090"/>
<rect x="1072" y="0" width="25" height="15" fill="#f9f9f9"/>
<rect x="1071" y="0" width="1" height="15" fill="#a0a0a0"/>
</g>
<text x="39.5" y="7.500" font-family="Liberation Sans, Noto Sans CJK SC, sans-serif" font-size="12" fill="#000" stroke="#000" stroke-width="0.300">新订单</text>
<text x="192.5" y="7.800" font-family="Liberation Sans, Noto Sans CJK SC, sans-serif" font-size="12" fill="#000" stroke="#000" stroke-width="0.300">自动交易</text>
<text x="936.9" y="8.700" font-family="Liberation Sans, sans-serif" font-size="10.500" fill="#4a4a4a" textLength="12.3" lengthAdjust="spacingAndGlyphs">M1</text>
<text x="964.9" y="8.700" font-family="Liberation Sans, sans-serif" font-size="10.500" fill="#4a4a4a" textLength="12.3" lengthAdjust="spacingAndGlyphs">M5</text>
<text x="990.2" y="8.700" font-family="Liberation Sans, sans-serif" font-size="10.500" fill="#4a4a4a" textLength="17.5" lengthAdjust="spacingAndGlyphs">M15</text>
<text x="1018.2" y="8.700" font-family="Liberation Sans, sans-serif" font-size="10.500" fill="#4a4a4a" textLength="17.5" lengthAdjust="spacingAndGlyphs">M30</text>
<text x="1049.2" y="8.700" font-family="Liberation Sans, sans-serif" font-size="10.500" fill="#4a4a4a" textLength="11.5" lengthAdjust="spacingAndGlyphs">H1</text>
<text x="1077.0" y="8.700" font-family="Liberation Sans, sans-serif" font-size="10.500" fill="#4a4a4a" textLength="12" lengthAdjust="spacingAndGlyphs">H4</text>
<text x="1105.2" y="8.700" font-family="Liberation Sans, sans-serif" font-size="10.500" fill="#4a4a4a" textLength="11.7" lengthAdjust="spacingAndGlyphs">D1</text>
<text x="1132.0" y="8.700" font-family="Liberation Sans, sans-serif" font-size="10.500" fill="#4a4a4a" textLength="13.9" lengthAdjust="spacingAndGlyphs">W1</text>
<text x="1159.8" y="8.700" font-family="Liberation Sans, sans-serif" font-size="10.500" fill="#4a4a4a" textLength="14.5" lengthAdjust="spacingAndGlyphs">MN</text>
<path d="M-1 9 L3.5 13.500" stroke="#c8960a" stroke-width="2.600" fill="none"/>
<path d="M16.900 5.700 L18.400 4.200 L19.900 5.700 L18.400 7.200 Z" fill="#fff" stroke="#000" stroke-width="0.800"/>
<rect x="21.5" y="-2" width="11.5" height="12.3" fill="#fff" stroke="#8c8c8c" stroke-width="1"/>
<line x1="23.5" y1="1.5" x2="30.0" y2="1.5" stroke="#9a9a9a" stroke-width="1"/>
<line x1="23.5" y1="4" x2="30.0" y2="4" stroke="#9a9a9a" stroke-width="1"/>
<line x1="23.5" y1="6.5" x2="30.0" y2="6.5" stroke="#9a9a9a" stroke-width="1"/>
<rect x="24" y="0" width="3" height="1" fill="#606060"/><rect x="29" y="0" width="3" height="1" fill="#404040"/>
<path d="M29.2 3.5 H32.8 V7.3 H36.6 V10.9 H32.8 V14.7 H29.2 V10.9 H25.4 V7.3 H29.2 Z" fill="#1fd01f" stroke="#0a8a0a" stroke-width="0.900"/>
<path d="M93 -1 L98.500 -1 L104 6.500 L96 12.600 L88 6.900 Z" fill="#e8b830" stroke="#a87808" stroke-width="0.900"/>
<path d="M88 6.900 L96 12.600 L104 6.500 L104 5 L96 10.800 L88.500 5.500 Z" fill="#b8860b"/>
<path d="M93.500 -1 L89 5.500 L96 10.300" fill="none" stroke="#fbe9a0" stroke-width="0.900"/>
<rect x="118.5" y="-2" width="10" height="8" fill="#3a8ee6" stroke="#2060b0" stroke-width="0.800"/>
<rect x="120.5" y="0.5" width="6" height="1" fill="#cfe4ff"/>
<path d="M118 12 C114.500 12 115 8 118.5 8.300 C119 5.500 123.500 5 124.500 7.500 C126 6 129.500 6.500 129 9 C132.500 9 132.500 12 130 12 Z" fill="#e4ecf8" stroke="#7f98c4" stroke-width="0.900"/>
<g fill="none">
<path d="M146.600 -1.500 A8 8 0 0 0 146.600 10.700" stroke="#9db9e8" stroke-width="1.600"/>
<path d="M148.500 0 A5.800 5.800 0 0 0 148.500 9.200" stroke="#6f9be0" stroke-width="1.500"/>
<path d="M150.300 1.800 A3.300 3.300 0 0 0 150.300 7.400" stroke="#3f78d8" stroke-width="1.400"/>
<path d="M157.800 -1.500 A8 8 0 0 1 153.500 12.500" stroke="#a9d3a9" stroke-width="1.600"/>
<path d="M155.900 0 A5.800 5.800 0 0 1 154 10" stroke="#7cbc7c" stroke-width="1.500"/>
<path d="M154.100 1.800 A3.300 3.300 0 0 1 154.100 7.400" stroke="#52a652" stroke-width="1.400"/>
</g>
<circle cx="152.2" cy="4.600" r="1.700" fill="#2a62d0"/>
<path d="M152.300 5 V12.300" stroke="#18a018" stroke-width="1.600"/>
<path d="M171.800 4 L186.800 4 L181 11.500 L179 12.600 L177 11 Z" fill="#f4cf3a" stroke="#c89a10" stroke-width="0.700"/>
<ellipse cx="179.2" cy="1.500" rx="7.700" ry="3.200" fill="#58a8e8" stroke="#2d78c0" stroke-width="0.700"/>
<ellipse cx="179.5" cy="0.500" rx="4" ry="1.600" fill="#a8d8f8"/>
<circle cx="183.6" cy="8.400" r="3.900" fill="#d82010"/>
<rect x="182.300" y="7.100" width="2.600" height="2.600" fill="#fff"/>
<g shape-rendering="crispEdges"><rect x="267" y="0" width="1" height="14" fill="#303030"/><rect x="263" y="11" width="13" height="1" fill="#303030"/></g>
<path d="M274 9.0 L276.5 11.5 L274 13.0" fill="none" stroke="#303030" stroke-width="0.800"/>
<path d="M272.500 0 V8 M269.500 7 H272.500 M272.500 1.500 H275.500" stroke="#10a010" stroke-width="1.500" fill="none"/>
<g shape-rendering="crispEdges"><rect x="294" y="0" width="1" height="14" fill="#303030"/><rect x="291" y="11" width="12" height="1" fill="#303030"/></g>
<path d="M301 9.0 L303.5 11.5 L301 13.0" fill="none" stroke="#303030" stroke-width="0.800"/>
<rect x="297.500" y="-1" width="4" height="8" fill="#18b018" stroke="#0c800c" stroke-width="0.700"/><path d="M299.500 7 V9" stroke="#0c800c" stroke-width="1"/>
<g shape-rendering="crispEdges"><rect x="322" y="0" width="1" height="14" fill="#303030"/><rect x="319" y="11" width="13" height="1" fill="#303030"/></g>
<path d="M330 9.0 L332.5 11.5 L330 13.0" fill="none" stroke="#303030" stroke-width="0.800"/>
<path d="M322.500 8.500 C324 3 326 1 327.500 1.500 C329.500 2 330.500 4 331.500 6" fill="none" stroke="#18a018" stroke-width="1.200"/>
<path d="M361.3 7.3 L366.1 12.1" stroke="#d8a820" stroke-width="2.800" stroke-linecap="round"/>
<circle cx="357.5" cy="3.5" r="5.300" fill="#d4e8fa" stroke="#5b93d6" stroke-width="1.300"/>
<path d="M354.5 3.5 H360.5" stroke="#2f6fd0" stroke-width="1.600"/>
<path d="M357.5 0.5 V6.5" stroke="#2f6fd0" stroke-width="1.600"/>
<path d="M388.8 7.1 L393.6 11.899999999999999" stroke="#d8a820" stroke-width="2.800" stroke-linecap="round"/>
<circle cx="385" cy="3.3" r="5.300" fill="#d4e8fa" stroke="#5b93d6" stroke-width="1.300"/>
<path d="M382 3.3 H388" stroke="#2f6fd0" stroke-width="1.600"/>
<g shape-rendering="crispEdges">
<rect x="407" y="0" width="7" height="4" fill="#3db24a"/><rect x="415" y="0" width="8" height="4" fill="#2f6fd6"/>
<rect x="407" y="6" width="7" height="7" fill="#2f6fd6"/><rect x="415" y="6" width="8" height="7" fill="#3db24a"/>
<rect x="409" y="1" width="4" height="1" fill="#fff"/><rect x="417" y="1" width="4" height="1" fill="#fff"/><rect x="409" y="9" width="4" height="2" fill="#fff"/><rect x="417" y="9" width="4" height="2" fill="#fff"/>
</g>
<g shape-rendering="crispEdges"><rect x="446" y="0" width="1" height="14" fill="#303030"/><rect x="443" y="11" width="13" height="1" fill="#303030"/></g>
<path d="M454 9.0 L456.5 11.5 L454 13.0" fill="none" stroke="#303030" stroke-width="0.800"/>
<path d="M449.500 1 L454 4.500 L449.500 8 Z" fill="none" stroke="#18a018" stroke-width="1.200"/>
<g shape-rendering="crispEdges"><rect x="475" y="0" width="1" height="14" fill="#303030"/><rect x="471" y="11" width="13" height="1" fill="#303030"/></g>
<path d="M482 9.0 L484.5 11.5 L482 13.0" fill="none" stroke="#303030" stroke-width="0.800"/>
<path d="M479.500 0 V9.500" stroke="#2060c0" stroke-width="1.200"/>
<path d="M485 4.300 H481.500 M483.300 2.500 L481 4.300 L483.300 6.100" fill="none" stroke="#d03010" stroke-width="1.100"/>
<rect x="504" y="-2" width="11" height="11.5" fill="#fff" stroke="#8c8c8c" stroke-width="1"/>
<line x1="506" y1="1.5" x2="512" y2="1.5" stroke="#9a9a9a" stroke-width="1"/>
<line x1="506" y1="4" x2="512" y2="4" stroke="#9a9a9a" stroke-width="1"/>
<line x1="506" y1="6.5" x2="512" y2="6.5" stroke="#9a9a9a" stroke-width="1"/>
<path d="M511.9 2.1000000000000005 H516.1 V6.200000000000001 H520.2 V10.4 H516.1 V14.5 H511.9 V10.4 H507.8 V6.200000000000001 H511.9 Z" fill="#1fd01f" stroke="#0a8a0a" stroke-width="0.900"/>
<path d="M525.6999999999999 4 H530.9 L528.3 6.800 Z" fill="#000"/>
<path d="M564.9 4 H570.1 L567.5 6.800 Z" fill="#000"/>
<path d="M604.1 4 H609.3000000000001 L606.7 6.800 Z" fill="#000"/>
<path d="M909.9 4 H915.1 L912.5 6.800 Z" fill="#000"/>
<circle cx="550" cy="5" r="7" fill="#f4f8ff" stroke="#2a62cc" stroke-width="2"/>
<path d="M550 1 V5.500 H553" fill="none" stroke="#606060" stroke-width="1"/>
<rect x="581.500" y="-1.500" width="15" height="13" fill="#fff" stroke="#3a6cd0" stroke-width="1.200"/>
<path d="M582 5.500 H596" stroke="#3a6cd0" stroke-width="1"/>
<path d="M583.500 3.500 L586.500 2.500 L589 3.200 L592 1.800 L594.500 2" fill="none" stroke="#b03020" stroke-width="1"/>
<path d="M583.500 9.500 L586.500 8 L589 9 L592 7.500 L594.500 8.300" fill="none" stroke="#20a020" stroke-width="1"/>
<path d="M633 -4 V9.500 L636 6.800 L638.300 12 L640.600 11 L638.300 6.200 H642.300 Z" fill="#404040"/>
<g shape-rendering="crispEdges"><rect x="658" y="5" width="6" height="1" fill="#505050"/><rect x="667" y="5" width="6" height="1" fill="#505050"/><rect x="665" y="0" width="1" height="4" fill="#505050"/><rect x="665" y="7" width="1" height="6" fill="#505050"/><rect x="665" y="5" width="1" height="1" fill="#909090"/>
<rect x="699" y="0" width="1" height="12" fill="#5a5a5a"/><rect x="722" y="5" width="13" height="1" fill="#5a5a5a"/></g>
<path d="M750 11.700 L762 -0.300" stroke="#5a5a5a" stroke-width="1.100"/>
<g stroke="#686868" stroke-width="1" fill="none"><path d="M776 8 L786 -1 M778 11 L789 1 M780.500 12.500 L790.500 3.500"/><path d="M779 5 L782 12 M782.500 2 L785.500 9 M786 -1 L789 6" stroke-width="0.800"/></g>
<text x="787.5" y="14.300" font-family="Liberation Sans, sans-serif" font-size="6.500" font-weight="bold" fill="#404040">E</text>
<line x1="805" y1="1.5" x2="818" y2="1.5" stroke="#606060" stroke-width="1" stroke-dasharray="1 1"/>
<line x1="805" y1="5.5" x2="818" y2="5.5" stroke="#606060" stroke-width="1" stroke-dasharray="1 1"/>
<line x1="805" y1="9.5" x2="814" y2="9.5" stroke="#606060" stroke-width="1" stroke-dasharray="1 1"/>
<text x="815" y="14.300" font-family="Liberation Sans, sans-serif" font-size="6.500" font-weight="bold" fill="#404040">F</text>
<text x="834.5" y="9.800" font-family="Liberation Sans, sans-serif" font-size="12" font-weight="bold" fill="#6c6c6c">A</text>
<rect x="862.500" y="1.500" width="11" height="10.500" fill="none" stroke="#606060" stroke-width="1" stroke-dasharray="1 1"/>
<text x="864.8" y="10" font-family="Liberation Sans, sans-serif" font-size="10.500" font-weight="bold" fill="#6c6c6c">T</text>
<path d="M890 3 L893 0 L896 3 Z M896 8.500 L899.500 11.500 L903 8.500 L899.500 6 Z" fill="#404040"/>
<path d="M890.500 5 L894 8.500 L899 2.500" fill="none" stroke="#404040" stroke-width="1.300"/>
<path d="M1650 6.100 L1645 10.200" stroke="#1f5fd8" stroke-width="2.200" stroke-linecap="round"/>
<circle cx="1652.6" cy="2.400" r="4.100" fill="#f4f4f8" stroke="#2a66dc" stroke-width="1.100"/>
<path d="M1672.300 13.500 L1673 10.800 C1667 10 1668 3.500 1675 3.200 C1682 3.200 1683 10 1676.500 11.200 Z" fill="#e4e6ee" stroke="#a8a8a8" stroke-width="0.800"/>
<circle cx="1683.5" cy="2.400" r="8.300" fill="#dc2c14"/>
<text x="1683.5" y="6.800" font-family="Liberation Serif, serif" font-size="14" fill="#fff" text-anchor="middle">1</text>
</svg>
</body></html>
